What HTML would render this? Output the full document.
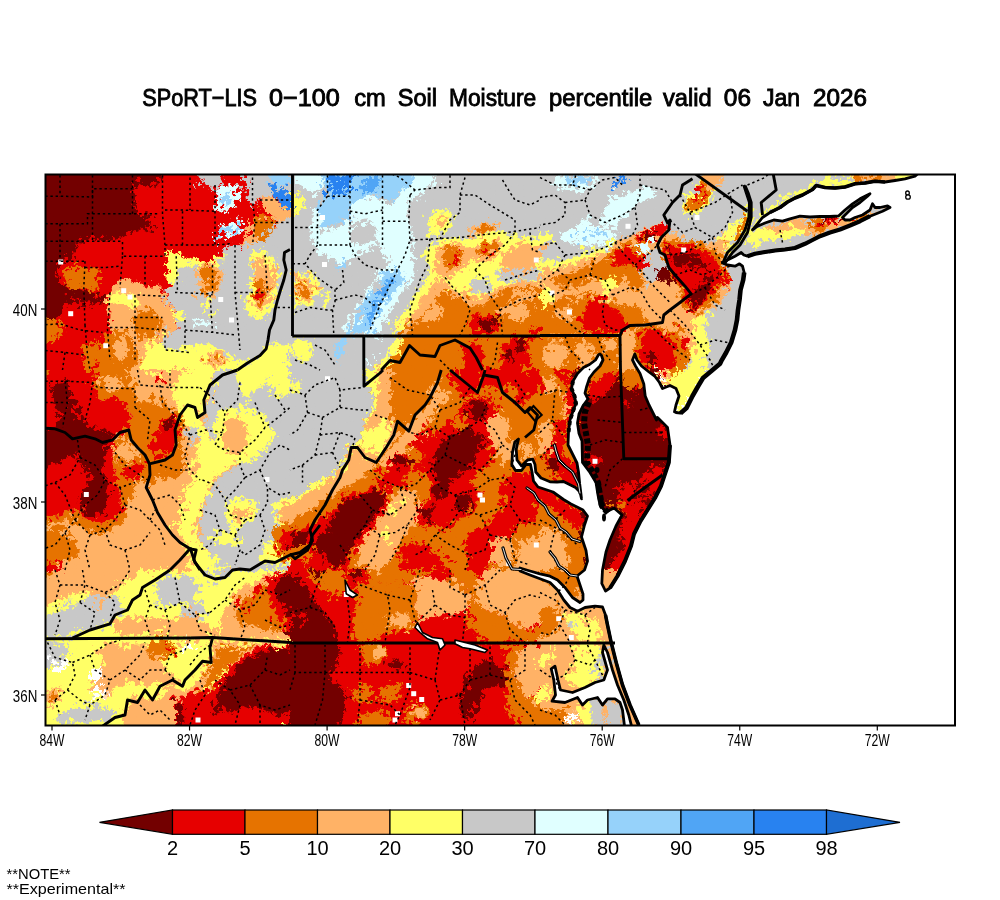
<!DOCTYPE html>
<html><head><meta charset="utf-8"><title>SPoRT-LIS Soil Moisture</title>
<style>
html,body{margin:0;padding:0;background:#fff;}
body{width:1000px;height:900px;position:relative;overflow:hidden;font-family:"Liberation Sans",sans-serif;color:#000;}
.t{position:absolute;white-space:nowrap;line-height:1;}
</style></head><body>
<svg width="1000" height="900" viewBox="0 0 1000 900" style="position:absolute;left:0;top:0">
<defs>
<clipPath id="mapclip"><rect x="45.5" y="174.5" width="909" height="551"/></clipPath>
<filter id="rough" x="0" y="0" width="1000" height="900" filterUnits="userSpaceOnUse" primitiveUnits="userSpaceOnUse" color-interpolation-filters="sRGB"><feTurbulence type="fractalNoise" baseFrequency="0.16" numOctaves="3" seed="7" result="n1"/><feDisplacementMap in="SourceGraphic" in2="n1" scale="14" xChannelSelector="R" yChannelSelector="G" result="A"/><feTurbulence type="fractalNoise" baseFrequency="0.035" numOctaves="2" seed="23" result="n2"/><feDisplacementMap in="SourceGraphic" in2="n2" scale="36" xChannelSelector="R" yChannelSelector="G" result="B0"/><feDisplacementMap in="B0" in2="n1" scale="12" xChannelSelector="G" yChannelSelector="B" result="B"/><feTurbulence type="fractalNoise" baseFrequency="0.22" numOctaves="2" seed="5" result="n3"/><feColorMatrix in="n3" type="matrix" values="0 0 0 0 0  0 0 0 0 0  0 0 0 0 0  40 0 0 0 -21.2" result="mask"/><feComposite in="B" in2="mask" operator="in" result="Bm"/><feMerge><feMergeNode in="A"/><feMergeNode in="Bm"/></feMerge></filter>
<clipPath id="t0"><rect x="40" y="170" width="250" height="200"/></clipPath>
<clipPath id="t1"><rect x="40" y="370" width="250" height="200"/></clipPath>
<clipPath id="t2"><rect x="40" y="570" width="250" height="200"/></clipPath>
<clipPath id="t3"><rect x="290" y="170" width="250" height="200"/></clipPath>
<clipPath id="t4"><rect x="290" y="370" width="250" height="200"/></clipPath>
<clipPath id="t5"><rect x="290" y="570" width="250" height="200"/></clipPath>
<clipPath id="t6"><rect x="540" y="170" width="250" height="200"/></clipPath>
<clipPath id="t7"><rect x="540" y="370" width="250" height="200"/></clipPath>
<clipPath id="t8"><rect x="540" y="570" width="250" height="200"/></clipPath>
<clipPath id="t9"><rect x="790" y="170" width="180" height="200"/></clipPath>
</defs>
<g clip-path="url(#mapclip)">
<g filter="url(#rough)">
<g clip-path="url(#t0)">
<rect x="39" y="169" width="252" height="202" fill="#e60000"/>
<polygon fill="#730000" points="40.0,170.0 140.0,170.0 141.2,183.8 136.2,193.8 133.8,207.5 140.0,213.0 153.8,213.8 155.0,220.0 146.2,227.0 136.2,232.5 122.5,237.0 107.5,240.0 90.0,240.5 80.0,244.0 70.0,252.5 60.5,264.5 58.0,276.2 63.0,287.5 82.5,290.5 97.5,292.5 108.0,296.2 107.0,303.8 95.0,305.0 82.5,300.5 71.2,298.0 65.0,306.2 62.5,315.0 53.8,320.0 48.8,326.2 40.0,332.5"/>
<polygon fill="#730000" points="140.0,170.0 162.5,170.0 162.0,183.8 152.5,188.8 141.2,183.8"/>
<polygon fill="#e67300" points="66.2,266.2 77.5,262.0 85.0,267.5 90.0,264.5 96.5,270.0 98.0,282.5 93.8,290.5 85.0,287.5 75.0,292.5 67.5,287.5 64.5,277.5"/>
<polygon fill="#c8c8c8" points="176.2,266.2 190.0,263.0 201.2,268.0 215.0,265.5 220.5,255.0 230.0,245.5 240.0,245.0 250.5,240.0 257.5,235.5 266.2,232.5 275.0,221.2 290.0,215.0 290.0,370.0 146.2,370.0 145.0,355.5 150.0,345.5 165.0,340.5 175.0,330.5 180.0,320.0 173.0,310.0 168.0,300.0 167.5,290.5 174.5,283.0"/>
<polygon fill="#ffff66" points="167.0,249.5 175.0,252.5 182.5,256.2 195.0,258.0 202.5,263.0 212.5,265.0 220.0,256.2 225.0,252.5 223.8,265.0 215.0,270.0 202.5,268.8 190.0,266.2 178.0,268.0 176.2,282.5 170.0,288.8 166.2,280.0 167.5,265.0"/>
<polygon fill="#ffb266" points="195.0,267.5 215.0,263.8 222.5,275.0 221.2,287.5 212.5,293.8 202.5,290.0 196.2,280.0"/>
<polygon fill="#e67300" points="200.0,270.0 210.0,266.2 216.2,275.0 218.8,283.8 212.5,290.0 205.0,285.0 200.0,277.5"/>
<polygon fill="#ffff66" points="247.5,252.5 265.0,249.5 276.2,265.0 278.8,280.0 273.8,300.0 266.2,315.0 253.8,321.2 245.0,310.0 249.5,290.0 252.0,270.0"/>
<polygon fill="#ffb266" points="252.5,258.8 265.0,256.2 273.0,275.0 271.2,295.0 261.2,310.0 252.5,306.2 254.5,285.0"/>
<polygon fill="#e67300" points="253.8,280.0 263.8,277.5 266.2,300.0 258.8,306.2 253.8,300.0"/>
<polygon fill="#e60000" points="255.5,290.0 261.2,288.8 262.5,298.8 257.0,301.2"/>
<polygon fill="#c8c8c8" points="193.8,170.0 221.2,170.0 220.5,182.5 215.0,193.8 207.5,185.0 200.0,180.0"/>
<polygon fill="#e0ffff" points="215.0,193.8 223.8,185.0 237.5,183.8 242.5,193.8 232.5,207.5 222.5,213.8 216.2,207.5"/>
<polygon fill="#96d2fa" points="218.8,197.5 227.5,192.5 232.5,200.0 225.0,210.0"/>
<polygon fill="#e0ffff" points="223.8,223.8 231.2,221.2 238.8,228.8 231.2,237.5 223.8,232.5"/>
<polygon fill="#96d2fa" points="227.5,226.2 233.8,226.2 235.0,232.5 228.8,234.5"/>
<polygon fill="#c8c8c8" points="240.0,170.0 290.0,170.0 290.0,197.5 260.0,197.5 252.5,207.5 247.5,200.0 250.0,185.0"/>
<polygon fill="#96d2fa" points="265.0,174.0 290.0,174.0 290.0,187.5 275.0,185.0"/>
<polygon fill="#2882f0" points="271.2,185.0 280.0,187.5 290.0,197.5 290.0,210.0 280.0,207.5 273.8,195.0"/>
<polygon fill="#ffb266" points="260.0,197.5 272.5,195.0 280.0,207.5 290.0,210.0 290.0,217.5 275.0,221.2 266.2,216.2"/>
<polygon fill="#e67300" points="252.5,217.5 265.0,215.0 272.5,223.8 270.5,237.0 260.0,240.5 252.5,232.5"/>
<polygon fill="#ffb266" points="247.5,227.5 252.5,217.5 252.5,232.5 260.0,240.5 252.5,245.0 240.0,245.0"/>
<polygon fill="#ffb266" points="111.2,289.5 120.0,278.0 135.0,280.5 147.5,287.5 165.0,287.5 167.5,300.0 172.5,310.0 178.8,320.0 175.0,330.5 165.0,340.5 150.0,345.5 145.0,355.5 140.0,370.0 97.5,370.0 104.5,345.0 107.5,330.0 110.5,315.0 108.0,300.0"/>
<polygon fill="#ffff66" points="110.5,293.0 140.0,295.0 138.0,310.0 127.5,305.5 115.0,303.0 110.5,305.5"/>
<polygon fill="#e67300" points="135.0,313.0 152.5,310.0 162.5,320.0 160.5,335.0 148.0,340.5 135.5,335.0 130.5,325.0"/>
<polygon fill="#e67300" points="107.0,330.5 125.0,330.0 135.0,345.0 140.0,360.0 130.5,370.0 97.5,370.0 100.5,350.0"/>
<polygon fill="#ffb266" points="113.0,340.5 125.0,335.5 130.0,348.0 122.5,360.5 113.0,355.5"/>
<polygon fill="#ffff66" points="147.5,345.5 165.0,342.5 170.5,350.5 190.0,345.5 210.5,345.0 225.5,350.5 240.0,360.0 290.0,355.5 290.0,370.0 140.0,370.0"/>
<polygon fill="#ffb266" points="210.0,352.5 222.5,350.5 227.5,362.5 215.0,367.5 207.5,361.2"/>
<polygon fill="#e67300" points="212.5,356.2 220.0,355.0 222.0,361.2 215.0,363.0"/>
<polygon fill="#ffff66" points="172.5,310.0 182.5,308.8 183.8,320.0 176.2,323.0"/>
<polygon fill="#ffff66" points="200.0,301.2 212.5,300.0 215.0,308.8 202.5,310.0"/>
<polygon fill="#e0ffff" points="192.5,322.5 210.0,320.0 211.2,325.0 193.8,328.8"/>
<polygon fill="#e67300" points="40.0,323.8 55.0,320.0 60.0,330.0 55.0,341.2 40.0,345.0"/>
<polygon fill="#e67300" points="85.0,345.0 97.5,342.5 100.5,357.5 90.0,370.0 82.5,370.0"/>
<polygon fill="#ffff66" points="237.5,370.0 247.5,363.0 260.0,355.5 267.5,345.0 290.0,342.5 290.0,370.0"/>
<polygon fill="#c8c8c8" points="275.0,317.5 290.0,310.0 290.0,345.0 268.8,342.5"/>
</g>
<g clip-path="url(#t1)">
<rect x="39" y="369" width="252" height="202" fill="#ffb266"/>
<polygon fill="#e67300" points="90.0,370.0 122.5,370.0 132.5,390.0 140.0,405.0 150.0,400.0 160.0,405.0 180.0,410.0 185.0,420.0 180.0,445.0 187.5,455.0 185.0,470.0 175.0,477.5 160.0,480.0 150.0,487.5 145.0,477.5 135.0,480.0 125.0,475.0 115.0,455.0 112.5,445.0 127.5,430.0 132.5,420.0 125.0,402.5 115.0,395.0 100.0,400.0 90.0,385.0"/>
<polygon fill="#e67300" points="112.5,452.5 125.0,475.0 135.0,480.0 132.5,495.0 127.5,510.0 122.5,525.0 105.0,532.5 85.0,530.0 65.0,520.0 40.0,525.0 40.0,517.5 60.0,515.0 70.0,510.0 85.0,517.5 100.0,522.5 115.0,520.0 125.0,510.0 120.0,495.0 115.0,475.0"/>
<polygon fill="#e67300" points="40.0,530.0 60.0,525.0 72.5,535.0 80.0,550.0 70.0,560.0 55.0,562.5 40.0,570.0"/>
<polygon fill="#e60000" points="40.0,560.0 55.0,562.5 60.0,570.0 40.0,570.0"/>
<polygon fill="#ffb266" points="97.5,380.0 115.0,377.5 122.5,387.5 110.0,392.5"/>
<polygon fill="#ffb266" points="140.0,385.0 157.5,385.0 160.0,397.5 145.0,400.0"/>
<polygon fill="#e60000" points="40.0,370.0 95.0,370.0 90.0,385.0 100.0,400.0 115.0,395.0 125.0,402.5 132.5,420.0 127.5,430.0 115.0,437.5 112.5,452.5 115.0,475.0 120.0,495.0 125.0,510.0 115.0,520.0 100.0,522.5 85.0,517.5 70.0,510.0 60.0,515.0 40.0,520.0"/>
<polygon fill="#730000" points="50.0,385.0 67.5,382.5 72.5,395.0 82.5,410.0 90.0,425.0 110.0,430.0 115.0,437.5 105.0,445.0 102.5,465.0 105.0,480.0 107.5,500.0 100.0,512.5 90.0,517.5 80.0,510.0 77.5,497.5 87.5,487.5 92.5,477.5 85.0,462.5 70.0,455.0 55.0,465.0 40.0,467.5 40.0,430.0 55.0,427.5 62.5,415.0 52.5,402.5"/>
<polygon fill="#e67300" points="40.0,370.0 47.5,370.0 47.5,380.0 40.0,382.5"/>
<polygon fill="#e60000" points="152.5,432.5 160.0,420.0 175.0,415.0 180.0,425.0 175.0,445.0 165.0,457.5 152.5,460.0 150.0,445.0"/>
<polygon fill="#730000" points="160.0,425.0 172.5,417.5 176.2,423.8 165.0,432.5"/>
<polygon fill="#e60000" points="125.0,465.0 142.5,462.5 145.0,472.5 132.5,477.5 125.0,472.5"/>
<polygon fill="#e60000" points="155.0,375.0 162.5,375.0 162.5,382.5 155.0,383.8"/>
<polygon fill="#ffb266" points="115.0,445.0 130.0,440.0 140.0,452.5 135.0,462.5 120.0,460.0"/>
<polygon fill="#ffff66" points="170.0,395.0 180.0,375.0 195.0,370.0 215.0,370.0 210.0,385.0 205.0,400.0 200.0,415.0 205.0,430.0 215.0,445.0 230.0,452.5 240.0,460.0 225.0,470.0 210.0,480.0 205.0,495.0 200.0,510.0 195.0,530.0 200.0,545.0 215.0,555.0 230.0,565.0 225.0,570.0 190.0,570.0 185.0,550.0 180.0,530.0 180.0,510.0 185.0,495.0 195.0,480.0 200.0,465.0 195.0,445.0 187.5,432.5 185.0,420.0 180.0,407.5"/>
<polygon fill="#c8c8c8" points="215.0,370.0 290.0,370.0 290.0,570.0 230.0,570.0 215.0,555.0 202.5,545.0 200.0,520.0 205.0,500.0 215.0,480.0 230.0,470.0 245.0,460.0 230.0,452.5 215.0,445.0 207.5,430.0 205.0,410.0 210.0,390.0"/>
<polygon fill="#c8c8c8" points="185.0,427.5 195.0,425.0 200.0,440.0 190.0,445.0"/>
<polygon fill="#ffff66" points="215.0,410.0 245.0,405.0 265.0,415.0 275.0,435.0 265.0,452.5 250.0,462.5 230.0,462.5 215.0,445.0"/>
<polygon fill="#ffb266" points="225.0,420.0 240.0,415.0 247.5,435.0 245.0,452.5 230.0,455.0 222.5,440.0"/>
<polygon fill="#ffff66" points="235.0,370.0 290.0,370.0 290.0,385.0 275.0,382.5 260.0,387.5 245.0,397.5 237.5,385.0"/>
<polygon fill="#ffff66" points="275.0,385.0 290.0,382.5 290.0,395.0 277.5,397.5"/>
<polygon fill="#ffff66" points="225.0,500.0 250.0,495.0 257.5,510.0 250.0,525.0 232.5,530.0 225.0,517.5"/>
<polygon fill="#ffb266" points="232.5,510.0 247.5,505.0 250.0,517.5 237.5,522.5"/>
<polygon fill="#ffff66" points="270.0,505.0 290.0,495.0 290.0,535.0 277.5,532.5"/>
<polygon fill="#ffb266" points="277.5,510.0 290.0,505.0 290.0,527.5 280.0,525.0"/>
<polygon fill="#ffff66" points="265.0,545.0 290.0,540.0 290.0,560.0 275.0,565.0 260.0,560.0"/>
<polygon fill="#ffff66" points="215.0,530.0 235.0,530.0 237.5,545.0 220.0,545.0"/>
<polygon fill="#ffff66" points="180.0,495.0 195.0,490.0 200.0,510.0 190.0,530.0 180.0,525.0"/>
<polygon fill="#e67300" points="272.5,530.0 290.0,520.0 290.0,560.0 277.5,555.0"/>
<polygon fill="#e60000" points="280.0,535.0 290.0,530.0 290.0,555.0 282.5,550.0"/>
</g>
<g clip-path="url(#t2)">
<rect x="39" y="569" width="252" height="202" fill="#ffff66"/>
<polygon fill="#ffb266" points="40.0,570.0 140.0,570.0 130.0,580.0 115.0,592.5 100.0,597.5 85.0,592.5 70.0,597.5 55.0,602.5 40.0,607.5"/>
<polygon fill="#e67300" points="40.0,570.0 52.5,570.0 50.0,577.5 40.0,577.5"/>
<polygon fill="#c8c8c8" points="40.0,617.5 60.0,612.5 80.0,602.5 90.0,595.0 110.0,595.0 125.0,602.5 115.0,617.5 100.0,625.0 85.0,630.0 72.5,637.5 40.0,637.5"/>
<polygon fill="#c8c8c8" points="155.0,582.5 175.0,575.0 195.0,577.5 200.0,590.0 190.0,602.5 175.0,607.5 160.0,600.0"/>
<polygon fill="#c8c8c8" points="202.5,570.0 235.0,570.0 225.0,577.5 215.0,580.0 205.0,575.0"/>
<polygon fill="#c8c8c8" points="40.0,642.5 67.5,642.5 72.5,652.5 60.0,657.5 52.5,670.0 40.0,670.0"/>
<polygon fill="#c8c8c8" points="55.0,715.0 80.0,710.0 102.5,705.0 115.0,712.5 110.0,720.0 85.0,722.5 60.0,725.0"/>
<polygon fill="#c8c8c8" points="180.0,607.5 200.0,602.5 210.0,612.5 195.0,622.5 182.5,620.0"/>
<polygon fill="#ffb266" points="115.0,620.0 140.0,615.0 165.0,620.0 180.0,615.0 200.0,620.0 215.0,627.5 220.0,637.5 190.0,637.5 160.0,635.0 135.0,637.5 115.0,632.5"/>
<polygon fill="#ffb266" points="102.5,642.5 145.0,642.5 150.0,655.0 165.0,665.0 160.0,680.0 145.0,685.0 130.0,680.0 115.0,687.5 105.0,700.0 90.0,690.0 95.0,675.0 105.0,665.0 100.0,652.5"/>
<polygon fill="#e67300" points="147.5,645.0 160.0,640.0 175.0,642.5 177.5,652.5 165.0,657.5 155.0,662.5 147.5,655.0"/>
<polygon fill="#e60000" points="167.5,645.0 175.0,645.0 175.0,650.0 167.5,650.0"/>
<polygon fill="#ffb266" points="47.5,690.0 60.0,687.5 62.5,700.0 52.5,705.0 40.0,702.5"/>
<polygon fill="#e67300" points="50.0,692.5 57.5,691.2 58.8,698.8 51.2,700.0"/>
<polygon fill="#ffb266" points="125.0,710.0 140.0,695.0 155.0,700.0 175.0,687.5 190.0,690.0 185.0,705.0 175.0,720.0 175.0,730.0 122.5,730.0"/>
<polygon fill="#ffb266" points="150.0,675.0 175.0,672.5 182.5,682.5 170.0,687.5 157.5,685.0"/>
<polygon fill="#ffb266" points="220.0,620.0 230.0,602.5 240.0,590.0 252.5,580.0 265.0,575.0 290.0,572.5 290.0,640.0 220.0,638.8"/>
<polygon fill="#e67300" points="237.5,605.0 252.5,592.5 265.0,585.0 290.0,585.0 290.0,632.5 265.0,630.0 245.0,625.0 235.0,617.5"/>
<polygon fill="#e60000" points="240.0,607.5 247.5,602.5 250.0,612.5 242.5,616.2"/>
<polygon fill="#e60000" points="250.0,587.5 260.0,585.0 260.0,592.5 252.5,595.0"/>
<polygon fill="#e60000" points="270.0,590.0 290.0,580.0 290.0,620.0 277.5,615.0 270.0,602.5"/>
<polygon fill="#730000" points="277.5,587.5 290.0,585.0 290.0,602.5 280.0,600.0"/>
<polygon fill="#ffb266" points="212.5,641.2 290.0,643.8 290.0,650.0 265.0,652.5 240.0,660.0 225.0,670.0 215.0,680.0 200.0,690.0 187.5,697.5 180.0,695.0 200.0,680.0 210.0,665.0 212.5,652.5"/>
<polygon fill="#e67300" points="220.0,645.0 255.0,645.0 240.0,657.5 225.0,670.0 215.0,680.0 202.5,690.0 192.5,695.0 210.0,675.0 215.0,660.0"/>
<polygon fill="#e60000" points="260.0,645.0 290.0,645.0 290.0,730.0 175.0,730.0 175.0,705.0 185.0,695.0 195.0,692.5 210.0,687.5 220.0,677.5 230.0,667.5 240.0,660.0 250.0,652.5"/>
<polygon fill="#730000" points="265.0,647.5 290.0,647.5 290.0,710.0 280.0,715.0 265.0,710.0 250.0,705.0 235.0,710.0 220.0,715.0 210.0,710.0 215.0,695.0 225.0,680.0 235.0,670.0 245.0,660.0 255.0,655.0"/>
<polygon fill="#730000" points="176.2,705.0 182.5,702.5 183.8,730.0 176.2,730.0"/>
<polygon fill="#ffffff" points="51.2,660.0 67.5,661.2 66.2,670.0 52.5,670.0"/>
<polygon fill="#ffffff" points="90.0,668.8 102.5,668.8 102.5,680.0 90.0,680.0"/>
<polygon fill="#ffffff" points="92.5,690.0 105.5,690.0 105.5,700.0 92.5,700.0"/>
<polygon fill="#ffffff" points="185.0,637.5 190.0,637.5 190.0,647.5 185.0,647.5"/>
<polygon fill="#e60000" points="265.0,577.5 290.0,570.0 290.0,635.0 280.0,625.0 270.0,602.5"/>
<polygon fill="#730000" points="273.8,580.0 290.0,575.0 290.0,620.0 283.8,610.0 277.5,597.5"/>
</g>
<g clip-path="url(#t3)">
<rect x="289" y="169" width="252" height="202" fill="#c8c8c8"/>
<polygon fill="#e0ffff" points="295.0,170.0 322.5,170.0 325.0,185.0 315.0,192.5 302.5,187.5 295.0,185.0"/>
<polygon fill="#e0ffff" points="415.0,170.0 438.0,170.0 433.0,185.0 416.2,196.2 407.5,210.0 410.0,235.0 415.0,252.5 414.5,270.0 407.5,283.8 395.0,305.0 380.0,330.0 370.0,335.5 340.0,335.5 352.5,312.5 365.0,292.5 375.0,277.5 385.0,266.2 382.5,252.5 375.0,245.0 365.0,252.5 347.5,263.0 337.5,265.5 335.0,255.0 320.0,252.5 315.0,242.5 322.5,232.5 340.0,227.5 350.0,215.0 352.5,200.0 372.5,197.5 390.0,202.5 400.0,195.0"/>
<polygon fill="#c8c8c8" points="350.0,222.5 372.5,220.0 377.5,235.5 365.0,245.0 350.0,242.5"/>
<polygon fill="#96d2fa" points="322.5,170.0 415.0,170.0 410.5,185.0 390.5,200.5 372.5,195.0 355.5,200.0 350.0,212.5 335.0,225.5 322.5,228.0 315.0,220.0 317.5,207.5 327.5,197.5 325.0,185.0"/>
<polygon fill="#50a5f5" points="357.5,177.0 378.0,177.0 375.0,192.5 362.5,195.0"/>
<polygon fill="#2882f0" points="327.5,174.5 350.0,174.5 352.5,190.0 340.0,195.0 330.0,187.5"/>
<polygon fill="#96d2fa" points="397.5,270.0 405.5,275.5 390.0,300.0 375.0,320.0 365.0,335.5 343.0,335.5 355.0,315.0 365.0,297.5 377.5,282.5 387.5,270.0"/>
<polygon fill="#50a5f5" points="390.0,278.0 395.0,280.5 375.0,315.5 368.0,323.0 365.0,318.0 377.5,295.0"/>
<polygon fill="#c8c8c8" points="372.5,283.8 382.5,280.0 383.0,290.0 375.0,295.0"/>
<polygon fill="#e0ffff" points="312.5,212.5 322.5,217.5 320.0,242.5 315.0,245.0 310.0,232.5"/>
<polygon fill="#96d2fa" points="335.0,263.8 345.0,262.5 346.2,268.8 337.5,270.0"/>
<polygon fill="#ffff66" points="290.0,195.0 305.0,195.0 305.0,207.5 292.5,215.0 290.0,215.0"/>
<polygon fill="#ffff66" points="295.0,275.0 310.0,272.5 318.0,280.0 320.0,295.0 313.0,305.5 300.0,305.5 295.0,295.0"/>
<polygon fill="#ffb266" points="297.5,277.5 308.8,276.2 313.8,287.5 312.5,300.0 301.2,302.5 297.0,292.5"/>
<polygon fill="#e67300" points="300.0,281.2 307.5,280.5 310.0,295.0 300.5,300.0"/>
<polygon fill="#ffff66" points="322.5,292.5 330.0,292.5 327.5,307.5 322.5,307.5"/>
<polygon fill="#ffff66" points="425.0,252.5 432.5,240.5 450.0,237.5 465.0,240.0 480.0,235.0 497.5,232.5 515.0,237.5 540.0,237.5 540.0,282.5 520.0,280.0 505.0,283.8 490.0,292.5 480.0,301.2 465.0,296.2 455.0,288.8 445.0,278.8 435.0,283.8 425.0,296.2 415.0,311.2 410.0,320.0 396.2,335.5 390.0,335.5 405.0,310.0 420.0,287.5 430.0,270.0"/>
<polygon fill="#ffb266" points="432.5,250.0 445.0,242.5 465.0,245.0 480.0,247.5 490.0,240.0 502.5,242.5 497.5,255.0 485.0,262.5 475.0,260.0 465.0,270.0 452.5,275.0 440.0,277.5 435.0,270.0 437.5,257.5"/>
<polygon fill="#ffb266" points="502.5,252.5 520.0,245.0 540.0,245.0 540.0,265.0 525.0,270.0 510.0,270.0 500.0,265.0"/>
<polygon fill="#e67300" points="440.0,247.5 452.5,245.0 462.5,252.5 460.0,265.0 450.0,270.0 442.5,262.5"/>
<polygon fill="#e67300" points="475.0,245.0 490.0,240.0 497.5,245.0 487.5,255.0 477.5,255.0"/>
<polygon fill="#e60000" points="452.0,251.2 456.8,250.0 458.5,263.8 453.8,265.0"/>
<polygon fill="#e60000" points="480.0,250.0 487.5,243.8 491.2,246.2 483.8,253.8"/>
<polygon fill="#c8c8c8" points="470.0,280.0 487.5,277.5 490.0,290.0 477.5,295.0 470.0,290.0"/>
<polygon fill="#c8c8c8" points="495.0,270.0 515.0,267.5 540.0,268.8 540.0,280.0 520.0,279.5 500.0,281.2"/>
<polygon fill="#ffff66" points="430.0,215.0 440.0,207.5 452.5,212.5 455.5,220.0 445.0,230.0 438.0,237.5 427.5,235.0"/>
<polygon fill="#ffb266" points="435.0,220.0 445.0,215.0 450.0,220.0 440.0,230.0"/>
<polygon fill="#ffb266" points="465.0,232.5 475.0,225.0 490.0,221.2 502.5,223.8 495.0,231.2 480.0,235.0 470.0,238.8"/>
<polygon fill="#e67300" points="475.0,228.8 490.0,223.8 495.0,227.5 482.5,232.5"/>
<polygon fill="#ffb266" points="400.0,335.5 415.0,310.0 425.0,295.0 435.0,283.0 445.0,278.0 455.0,288.0 465.0,295.5 480.0,300.5 490.0,291.5 505.0,283.0 520.0,280.0 540.0,282.5 540.0,370.0 375.0,370.0 390.0,350.0"/>
<polygon fill="#e67300" points="407.5,335.5 420.0,317.5 430.0,305.0 440.0,295.0 450.0,290.0 460.0,300.0 475.0,306.2 490.0,300.0 502.5,290.0 520.0,286.2 540.0,287.5 540.0,370.0 382.5,370.0 395.0,350.0"/>
<polygon fill="#ffb266" points="425.0,310.0 440.0,305.0 445.0,315.0 432.5,323.0 422.5,320.0"/>
<polygon fill="#ffb266" points="495.0,310.0 515.0,305.0 530.0,310.0 525.0,320.0 505.0,320.0"/>
<polygon fill="#ffb266" points="510.0,290.0 530.0,290.0 535.0,300.0 515.0,302.5"/>
<polygon fill="#e60000" points="470.0,320.0 480.0,315.0 495.0,317.5 498.0,330.0 490.0,337.0 472.5,337.0 468.8,327.5"/>
<polygon fill="#730000" points="480.0,321.2 492.5,320.0 495.5,330.0 485.0,334.0 480.0,328.8"/>
<polygon fill="#e60000" points="462.5,350.5 475.0,342.5 485.0,350.5 482.5,370.0 465.0,370.0"/>
<polygon fill="#e60000" points="502.5,345.0 515.0,337.5 528.0,342.5 530.5,360.0 520.0,370.0 502.5,370.0"/>
<polygon fill="#730000" points="505.0,352.5 512.5,350.0 515.0,360.0 507.5,362.5"/>
<polygon fill="#730000" points="515.0,342.5 525.0,342.5 525.0,350.0 517.5,350.5"/>
<polygon fill="#e60000" points="527.5,330.0 540.0,327.5 540.0,340.0 530.0,338.0"/>
<polygon fill="#ffff66" points="292.5,342.5 310.0,340.0 313.0,352.5 307.5,360.5 292.5,358.0"/>
<polygon fill="#96d2fa" points="337.5,337.0 348.0,337.0 340.0,360.0 333.8,360.0"/>
<polygon fill="#e0ffff" points="372.0,355.0 378.0,355.0 378.0,363.0 372.0,363.0"/>
<polygon fill="#ffff66" points="390.0,345.0 400.0,337.0 405.0,337.0 395.0,352.5 385.0,370.0 377.5,370.0"/>
</g>
<g clip-path="url(#t4)">
<rect x="289" y="369" width="252" height="202" fill="#e67300"/>
<polygon fill="#ffb266" points="375.0,370.0 395.0,370.0 390.0,392.5 390.0,420.0 400.0,432.5 390.0,445.0 382.5,460.0 365.0,475.0 345.0,487.5 325.0,500.0 305.0,512.5 290.0,525.0 290.0,505.0 305.0,495.0 317.5,487.5 330.0,477.5 342.5,467.5 352.5,452.5 362.5,442.5 367.5,425.0 375.0,410.0 380.0,390.0"/>
<polygon fill="#ffb266" points="400.0,435.0 420.0,415.0 435.0,397.5 445.0,390.0 450.0,397.5 440.0,410.0 425.0,427.5 410.0,445.0 395.0,462.5 385.0,470.0 380.0,465.0 390.0,450.0"/>
<polygon fill="#ffff66" points="362.5,370.0 377.5,370.0 380.0,390.0 375.0,410.0 367.5,425.0 362.5,442.5 352.5,452.5 342.5,467.5 330.0,477.5 317.5,487.5 305.0,495.0 290.0,505.0 290.0,500.0 302.5,492.5 315.0,482.5 327.5,475.0 340.0,465.0 350.0,450.0 360.0,440.0 365.0,422.5 372.5,410.0 375.0,395.0 365.0,385.0"/>
<polygon fill="#ffff66" points="362.5,432.5 382.5,422.5 390.0,432.5 385.0,450.0 375.0,457.5 365.0,452.5"/>
<polygon fill="#c8c8c8" points="290.0,370.0 362.5,370.0 365.0,385.0 375.0,395.0 372.5,410.0 365.0,422.5 360.0,440.0 350.0,450.0 340.0,465.0 327.5,475.0 315.0,482.5 302.5,492.5 290.0,500.0"/>
<polygon fill="#ffff66" points="290.0,385.0 300.0,380.0 302.5,392.5 292.5,395.0"/>
<polygon fill="#ffb266" points="350.0,455.0 360.0,452.5 360.0,470.0 352.5,472.5"/>
<polygon fill="#e60000" points="397.5,452.5 407.5,455.0 410.0,470.0 400.0,485.0 390.0,495.0 385.0,510.0 375.0,525.0 365.0,540.0 355.0,555.0 345.0,570.0 305.0,570.0 310.0,555.0 305.0,545.0 290.0,542.5 290.0,530.0 305.0,527.5 320.0,520.0 335.0,510.0 345.0,497.5 362.5,490.0 375.0,487.5 385.0,477.5 390.0,465.0"/>
<polygon fill="#730000" points="340.0,505.0 355.0,497.5 372.5,492.5 385.0,487.5 387.5,497.5 380.0,510.0 370.0,525.0 357.5,540.0 350.0,555.0 340.0,567.5 325.0,567.5 327.5,550.0 315.0,552.5 310.0,545.0 317.5,535.0 330.0,525.0"/>
<polygon fill="#730000" points="395.0,456.2 405.0,455.0 407.5,465.0 400.0,470.0 395.0,465.0"/>
<polygon fill="#730000" points="290.0,532.5 302.5,530.0 310.0,537.5 305.0,545.0 290.0,545.0"/>
<polygon fill="#ffb266" points="372.5,530.0 385.0,510.0 395.0,495.0 407.5,487.5 415.0,495.0 417.5,510.0 412.5,525.0 402.5,537.5 395.0,555.0 385.0,567.5 370.0,570.0 357.5,565.0 360.0,550.0"/>
<polygon fill="#ffff66" points="380.0,530.0 390.0,527.5 390.0,540.0 382.5,542.5"/>
<polygon fill="#ffff66" points="388.8,508.8 397.5,506.2 397.5,513.8 390.0,515.0"/>
<polygon fill="#e60000" points="410.0,440.0 425.0,430.0 440.0,427.5 455.0,415.0 465.0,402.5 475.0,395.0 490.0,400.0 497.5,415.0 490.0,432.5 497.5,445.0 490.0,460.0 480.0,470.0 470.0,477.5 475.0,490.0 480.0,505.0 470.0,515.0 455.0,520.0 445.0,530.0 435.0,525.0 425.0,530.0 415.0,520.0 417.5,505.0 430.0,495.0 430.0,480.0 420.0,475.0 415.0,465.0 425.0,455.0 415.0,450.0"/>
<polygon fill="#e67300" points="450.0,420.0 465.0,412.5 470.0,425.0 460.0,432.5"/>
<polygon fill="#730000" points="435.0,452.5 445.0,437.5 460.0,432.5 470.0,425.0 475.0,435.0 487.5,437.5 485.0,450.0 475.0,455.0 470.0,467.5 460.0,475.0 450.0,482.5 445.0,495.0 435.0,500.0 432.5,487.5 440.0,477.5 432.5,470.0"/>
<polygon fill="#730000" points="470.0,402.5 485.0,400.0 487.5,412.5 477.5,420.0 472.5,415.0"/>
<polygon fill="#730000" points="420.0,505.0 425.0,510.0 432.5,505.0 435.0,510.0 430.0,517.5 435.0,525.0 427.5,525.0 422.5,517.5 417.5,512.5"/>
<polygon fill="#730000" points="455.0,500.0 470.0,495.0 475.0,507.5 465.0,512.5 455.0,510.0"/>
<polygon fill="#e60000" points="450.0,370.0 540.0,370.0 540.0,385.0 530.0,397.5 520.0,407.5 510.0,400.0 500.0,390.0 485.0,385.0 475.0,392.5 465.0,395.0 455.0,385.0"/>
<polygon fill="#e67300" points="500.0,385.0 515.0,385.0 520.0,397.5 507.5,400.0"/>
<polygon fill="#e60000" points="505.0,477.5 520.0,470.0 540.0,477.5 540.0,510.0 530.0,520.0 515.0,530.0 505.0,545.0 495.0,560.0 485.0,570.0 465.0,570.0 470.0,555.0 465.0,540.0 475.0,530.0 490.0,520.0 500.0,505.0 497.5,490.0"/>
<polygon fill="#ffb266" points="487.5,420.0 502.5,415.0 510.0,425.0 507.5,440.0 495.0,445.0 487.5,435.0"/>
<polygon fill="#ffb266" points="497.5,442.5 515.0,440.0 517.5,457.5 505.0,462.5 495.0,455.0"/>
<polygon fill="#ffb266" points="490.0,540.0 507.5,535.0 515.0,550.0 505.0,565.0 490.0,562.5"/>
<polygon fill="#ffb266" points="520.0,445.0 530.0,442.5 535.0,455.0 525.0,460.0"/>
<polygon fill="#ffb266" points="520.0,540.0 540.0,535.0 540.0,570.0 515.0,570.0"/>
<polygon fill="#e60000" points="400.0,550.0 415.0,542.5 430.0,550.0 440.0,560.0 450.0,570.0 397.5,570.0"/>
<polygon fill="#e60000" points="290.0,555.0 305.0,560.0 305.0,570.0 290.0,570.0"/>
<polygon fill="#ffb266" points="430.0,385.0 440.0,380.0 442.5,392.5 432.5,397.5"/>
</g>
<g clip-path="url(#t5)">
<rect x="289" y="569" width="252" height="202" fill="#e60000"/>
<polygon fill="#e67300" points="365.0,570.0 440.0,570.0 425.0,575.0 407.5,580.0 390.0,585.0 372.5,580.0"/>
<polygon fill="#e67300" points="355.0,585.0 372.5,580.0 390.0,585.0 405.0,580.0 420.0,590.0 415.0,605.0 420.0,620.0 410.0,630.0 390.0,632.5 372.5,640.0 355.0,640.0 352.5,620.0 355.0,600.0"/>
<polygon fill="#e67300" points="362.5,645.0 387.5,645.0 390.0,655.0 377.5,665.0 362.5,662.5"/>
<polygon fill="#ffb266" points="372.5,647.5 385.0,647.5 385.0,657.5 375.0,657.5"/>
<polygon fill="#ffb266" points="385.0,615.0 407.5,612.5 412.5,625.0 390.0,630.0"/>
<polygon fill="#ffb266" points="407.5,580.0 425.0,575.0 440.0,580.0 455.0,575.0 465.0,585.0 470.0,600.0 465.0,612.5 450.0,617.5 432.5,615.0 420.0,620.0 415.0,605.0 420.0,590.0"/>
<polygon fill="#e67300" points="440.0,570.0 475.0,570.0 475.0,580.0 472.5,595.0 480.0,610.0 495.0,612.5 510.0,620.0 525.0,627.5 540.0,625.0 540.0,642.5 490.0,642.5 480.0,632.5 465.0,627.5 465.0,612.5 470.0,600.0 465.0,585.0 455.0,575.0"/>
<polygon fill="#ffb266" points="475.0,580.0 490.0,570.0 540.0,570.0 540.0,620.0 525.0,627.5 510.0,620.0 495.0,612.5 480.0,610.0 472.5,595.0"/>
<polygon fill="#e67300" points="305.0,570.0 345.0,570.0 347.5,585.0 340.0,595.0 327.5,590.0 317.5,585.0 307.5,577.5"/>
<polygon fill="#730000" points="290.0,577.5 305.0,585.0 315.0,600.0 325.0,615.0 335.0,627.5 340.0,645.0 337.5,665.0 332.5,680.0 340.0,687.5 347.5,700.0 342.5,715.0 340.0,730.0 290.0,730.0"/>
<polygon fill="#730000" points="310.0,570.0 325.0,570.0 320.0,577.5 312.5,575.0"/>
<polygon fill="#730000" points="352.5,570.0 362.5,570.0 360.0,580.0 352.5,577.5"/>
<polygon fill="#e60000" points="297.5,615.0 307.5,612.5 310.0,622.5 300.0,625.0"/>
<polygon fill="#730000" points="465.0,675.0 475.0,665.0 490.0,660.0 500.0,670.0 495.0,682.5 485.0,690.0 480.0,705.0 475.0,720.0 465.0,725.0 460.0,710.0 462.5,690.0"/>
<polygon fill="#730000" points="485.0,670.0 505.0,667.5 510.0,677.5 500.0,687.5 490.0,685.0"/>
<polygon fill="#730000" points="390.0,662.5 400.0,660.0 402.5,667.5 392.5,670.0"/>
<polygon fill="#e67300" points="350.0,687.5 365.0,682.5 372.5,692.5 365.0,702.5 352.5,700.0"/>
<polygon fill="#e67300" points="377.5,690.0 400.0,682.5 402.5,695.0 390.0,705.0 380.0,702.5"/>
<polygon fill="#e67300" points="360.0,715.0 380.0,710.0 390.0,720.0 385.0,730.0 360.0,730.0"/>
<polygon fill="#e67300" points="407.5,710.0 425.0,702.5 430.0,715.0 420.0,725.0 407.5,722.5"/>
<polygon fill="#ffb266" points="412.5,710.0 425.0,706.2 426.2,717.5 415.0,720.0"/>
<polygon fill="#e67300" points="510.0,645.0 525.0,645.0 517.5,655.0 515.0,670.0 520.0,685.0 530.0,700.0 540.0,695.0 540.0,730.0 515.0,730.0 510.0,710.0 505.0,690.0 507.5,670.0"/>
<polygon fill="#ffb266" points="525.0,645.0 540.0,645.0 540.0,690.0 530.0,700.0 520.0,685.0 515.0,670.0 517.5,655.0"/>
<polygon fill="#ffff66" points="535.0,695.0 540.0,692.5 540.0,702.5 536.2,702.5"/>
</g>
<g clip-path="url(#t6)">
<rect x="539" y="169" width="252" height="202" fill="#c8c8c8"/>
<polygon fill="#e0ffff" points="555.0,177.5 597.5,175.0 600.0,185.0 585.0,192.5 565.0,190.0 552.5,185.0"/>
<polygon fill="#96d2fa" points="565.0,177.5 590.0,176.2 590.0,185.0 570.0,186.2"/>
<polygon fill="#2882f0" points="607.5,187.5 625.0,176.2 627.0,179.0 610.5,190.5"/>
<polygon fill="#e0ffff" points="602.5,210.0 622.5,195.0 650.0,185.0 652.5,195.0 635.0,207.5 622.5,220.0 610.0,227.5 600.0,225.0"/>
<polygon fill="#e0ffff" points="562.5,232.5 582.5,225.0 605.0,227.5 617.5,235.0 605.0,242.5 587.5,247.5 572.5,245.0 560.0,240.0"/>
<polygon fill="#96d2fa" points="577.5,237.5 597.5,230.0 600.0,233.0 582.5,242.5"/>
<polygon fill="#e0ffff" points="580.0,220.0 590.0,217.5 592.5,225.0 582.5,227.5"/>
<polygon fill="#ffff66" points="540.0,232.5 547.5,230.0 552.5,240.0 545.0,245.0 540.0,245.0"/>
<polygon fill="#ffb266" points="540.0,265.0 555.0,270.0 572.5,263.8 590.0,258.8 605.0,251.2 615.0,241.2 627.5,235.5 640.0,230.0 652.5,226.2 665.0,221.2 668.8,230.0 680.0,232.5 680.0,245.0 695.0,245.0 710.0,242.5 720.0,235.0 732.5,230.0 740.0,222.5 747.5,215.0 750.0,232.5 740.0,245.0 725.0,257.5 725.0,265.0 735.0,275.0 732.5,287.5 720.0,300.0 710.0,310.0 705.0,325.0 700.0,345.0 690.0,360.0 680.0,370.0 540.0,370.0"/>
<polygon fill="#ffff66" points="540.0,257.5 555.0,262.5 572.5,257.5 590.0,252.5 605.0,245.0 615.0,235.5 615.0,241.2 605.0,251.2 590.0,258.8 572.5,263.8 555.0,270.0 540.0,265.0"/>
<polygon fill="#c8c8c8" points="645.0,252.5 665.0,250.0 670.0,265.0 665.0,277.5 650.0,283.0 640.0,270.0"/>
<polygon fill="#c8c8c8" points="712.5,312.5 730.0,305.0 737.5,310.0 732.5,325.0 727.5,342.5 720.0,360.0 710.0,362.5 707.5,345.0 705.0,330.0"/>
<polygon fill="#c8c8c8" points="726.2,270.0 740.0,268.8 741.2,287.5 732.5,290.0 727.5,280.0"/>
<polygon fill="#ffff66" points="690.0,320.0 705.0,310.0 712.5,312.5 705.0,330.0 707.5,345.0 710.0,362.5 700.0,370.0 690.0,370.0 695.0,345.0"/>
<polygon fill="#ffff66" points="725.0,232.5 740.0,220.0 747.5,205.0 752.5,210.0 750.0,232.5 740.0,245.0 730.0,255.0 725.0,252.5 730.0,242.5"/>
<polygon fill="#ffff66" points="540.0,290.0 550.0,287.5 555.0,300.0 547.5,310.0 540.0,310.0"/>
<polygon fill="#e67300" points="552.5,277.5 572.5,270.0 590.0,265.0 605.5,257.5 615.0,247.5 627.5,241.2 640.0,236.2 650.0,242.5 642.5,252.5 637.5,270.0 647.5,282.5 640.0,290.0 625.0,282.5 615.0,287.5 605.0,280.0 590.0,282.5 575.0,287.5 560.0,287.5"/>
<polygon fill="#ffff66" points="597.5,280.0 615.0,277.5 620.0,287.5 605.0,290.0"/>
<polygon fill="#e67300" points="540.0,310.0 555.0,300.0 575.0,295.0 590.0,290.0 605.0,295.0 622.5,305.0 640.0,310.0 650.0,320.0 640.0,327.5 622.5,330.0 620.0,335.5 540.0,335.5"/>
<polygon fill="#ffb266" points="555.0,310.0 570.0,305.0 575.0,317.5 560.0,322.5"/>
<polygon fill="#e60000" points="582.5,310.0 590.0,297.5 605.0,295.0 610.0,305.0 622.5,315.0 625.0,330.0 615.0,342.5 600.0,345.0 590.0,332.5 582.5,322.5"/>
<polygon fill="#e60000" points="612.5,255.0 622.5,247.5 632.5,245.0 635.0,255.0 645.0,265.0 640.0,270.0 630.0,265.0 622.5,267.5 612.5,265.0"/>
<polygon fill="#e60000" points="632.5,235.0 645.0,231.2 657.5,225.0 666.2,222.0 668.0,232.5 660.0,240.0 650.0,242.5 640.0,241.2"/>
<polygon fill="#730000" points="640.0,235.5 652.5,232.5 657.5,236.2 647.5,241.2"/>
<polygon fill="#e0ffff" points="636.2,245.0 647.5,242.5 650.0,250.0 640.0,255.0"/>
<polygon fill="#730000" points="655.0,268.8 665.0,266.2 675.0,275.0 672.5,283.8 662.5,282.5 655.0,277.5"/>
<polygon fill="#e67300" points="660.0,242.5 680.0,240.0 700.0,242.5 720.0,252.5 725.0,270.0 722.5,287.5 715.0,300.0 702.5,310.0 690.0,315.0 682.5,305.0 677.5,287.5 670.0,275.0 665.0,260.0"/>
<polygon fill="#e60000" points="665.0,247.5 680.0,245.0 700.0,247.5 715.0,257.5 720.0,270.0 720.0,285.0 712.5,295.0 700.0,305.0 690.0,310.0 685.0,300.0 680.0,285.0 672.5,275.0 667.5,260.0"/>
<polygon fill="#730000" points="670.0,253.8 685.0,251.2 700.0,256.2 705.0,263.8 697.5,270.0 685.0,266.2 675.0,265.0"/>
<polygon fill="#730000" points="702.5,275.0 712.5,280.0 710.0,290.0 700.0,300.0 692.5,307.5 687.5,302.5 692.5,292.5 700.0,285.0"/>
<polygon fill="#ffb266" points="680.0,306.2 695.0,311.2 690.0,325.0 680.0,330.0 670.0,325.0 670.0,315.0"/>
<polygon fill="#ffff66" points="682.5,202.5 695.0,185.0 705.0,175.0 715.0,177.5 715.0,192.5 705.0,207.5 695.0,217.5 685.0,215.0"/>
<polygon fill="#e67300" points="687.5,202.5 700.0,182.5 710.0,180.0 712.5,190.0 702.5,205.0 692.5,212.5 685.0,210.0"/>
<polygon fill="#e60000" points="693.8,190.0 700.0,183.8 702.5,187.5 696.2,202.5 691.2,202.5"/>
<polygon fill="#ffb266" points="700.0,170.0 727.5,170.0 722.5,185.0 712.5,190.0 705.0,182.5"/>
<polygon fill="#e60000" points="723.8,272.5 727.5,272.5 727.5,287.5 723.8,287.5"/>
<polygon fill="#e67300" points="635.0,330.0 652.5,325.0 670.0,330.0 685.0,340.0 690.0,355.0 685.0,370.0 635.0,370.0"/>
<polygon fill="#e60000" points="642.5,332.5 652.5,327.5 665.0,332.5 670.0,345.0 675.0,360.0 670.0,370.0 645.0,370.0 640.0,355.0"/>
<polygon fill="#730000" points="647.5,355.0 655.0,355.0 655.0,365.0 647.5,365.0"/>
<polygon fill="#e60000" points="680.0,340.0 687.5,337.5 690.0,347.5 682.5,350.0"/>
<polygon fill="#e67300" points="540.0,336.2 620.0,336.2 620.0,370.0 540.0,370.0"/>
<polygon fill="#ffb266" points="545.0,342.5 560.0,340.0 567.5,350.0 562.5,365.0 547.5,367.5 542.5,355.0"/>
<polygon fill="#ffb266" points="575.0,345.0 590.0,342.5 597.5,352.5 592.5,365.0 577.5,367.5"/>
<polygon fill="#ffb266" points="602.5,340.0 615.0,340.0 617.5,350.0 605.0,352.5"/>
<polygon fill="#ffff66" points="752.5,230.0 762.5,212.5 780.0,202.5 790.0,195.0 790.0,203.8 780.0,207.5 762.5,217.5 757.5,223.8"/>
<polygon fill="#ffff66" points="747.5,237.5 757.5,228.8 770.0,227.5 790.0,230.0 790.0,238.0 770.0,241.2 752.5,245.0"/>
<polygon fill="#ffb266" points="762.5,226.2 782.5,222.5 790.0,223.8 790.0,230.0 770.0,231.2"/>
<polygon fill="#e67300" points="732.5,240.0 740.0,225.0 745.5,207.5 747.5,220.0 742.5,235.0 735.0,247.5"/>
</g>
<g clip-path="url(#t7)">
<rect x="539" y="369" width="252" height="202" fill="#ffffff"/>
<polygon fill="#e67300" points="540.0,370.0 590.0,370.0 590.0,445.0 587.5,510.0 590.0,570.0 540.0,570.0"/>
<polygon fill="#e60000" points="555.0,420.0 565.0,415.0 567.5,435.0 562.5,450.0 572.5,465.0 577.5,480.0 580.0,495.0 565.0,480.0 555.0,470.0 545.0,465.0 542.5,452.5 552.5,445.0"/>
<polygon fill="#730000" points="545.0,455.0 557.5,457.5 560.0,470.0 550.0,472.5"/>
<polygon fill="#e60000" points="540.0,487.5 555.0,490.0 565.0,500.0 577.5,510.0 585.0,520.0 580.0,530.0 565.0,520.0 552.5,510.0 540.0,500.0"/>
<polygon fill="#e60000" points="577.5,495.0 590.0,500.0 590.0,520.0 582.5,515.0"/>
<polygon fill="#ffb266" points="540.0,422.5 550.0,420.0 552.5,445.0 542.5,452.5 540.0,452.5"/>
<polygon fill="#ffb266" points="540.0,525.0 555.0,530.0 565.0,545.0 567.5,570.0 540.0,570.0"/>
<polygon fill="#ffb266" points="542.5,380.0 552.5,377.5 555.0,392.5 545.0,395.0"/>
<polygon fill="#ffb266" points="562.5,395.0 567.5,395.0 567.5,420.0 562.5,420.0"/>
<polygon fill="#e60000" points="555.0,370.0 575.0,370.0 570.0,385.0 560.0,380.0"/>
<polygon fill="#e60000" points="565.0,390.0 575.0,385.0 577.5,420.0 567.5,425.0"/>
<polygon fill="#730000" points="575.0,370.0 655.0,370.0 680.0,427.5 680.0,485.0 640.0,570.0 590.0,570.0 575.0,470.0"/>
<polygon fill="#e67300" points="622.5,370.0 650.0,370.0 650.0,385.0 622.5,387.5"/>
<polygon fill="#e67300" points="590.0,370.0 622.5,370.0 622.5,380.0 597.5,385.0 585.0,397.5"/>
<polygon fill="#e60000" points="590.0,382.5 605.0,373.8 615.0,370.0 620.0,370.0 615.0,385.0 602.5,395.0 595.0,402.5 587.5,397.5"/>
<polygon fill="#e60000" points="585.0,452.5 597.5,455.0 600.0,465.0 590.0,470.0"/>
<polygon fill="#e60000" points="622.5,487.5 640.0,475.0 652.5,470.0 670.0,465.0 670.0,485.0 650.0,495.0 640.0,502.5 627.5,505.0 620.0,495.0"/>
<polygon fill="#730000" points="635.0,487.5 647.5,480.0 650.0,487.5 640.0,495.0"/>
<polygon fill="#e60000" points="625.0,505.0 645.0,502.5 645.0,520.0 635.0,570.0 602.5,570.0 612.5,545.0 622.5,525.0"/>
<polygon fill="#730000" points="610.0,545.0 620.0,535.0 622.5,545.0 615.0,560.0 607.5,570.0 602.5,570.0"/>
<polygon fill="#e67300" points="615.0,500.0 627.5,502.5 625.0,510.0 617.5,507.5"/>
<polygon fill="#e60000" points="657.5,427.5 670.0,427.5 670.0,440.0 658.8,437.5"/>
<polygon fill="#e60000" points="627.5,400.0 631.2,400.0 631.2,410.0 627.5,410.0"/>
<polygon fill="#e60000" points="635.0,385.0 638.8,385.0 638.8,392.5 635.0,392.5"/>
<polygon fill="#ffff66" points="655.0,365.0 720.0,365.0 702.5,380.0 690.0,395.0 682.5,412.5 676.2,413.8 676.2,400.0 670.0,385.0 662.5,382.5"/>
<polygon fill="#ffb266" points="657.5,365.0 670.0,365.0 670.0,377.5 660.0,377.5"/>
</g>
<g clip-path="url(#t8)">
<rect x="539" y="569" width="252" height="202" fill="#ffb266"/>
<polygon fill="#e67300" points="540.0,570.0 590.0,570.0 587.5,585.0 575.0,600.0 565.0,590.0 555.0,585.0 540.0,582.5"/>
<polygon fill="#e67300" points="540.0,607.5 550.0,605.0 560.0,620.0 555.0,635.0 540.0,637.5"/>
<polygon fill="#ffff66" points="565.0,615.0 580.0,612.5 597.5,620.0 600.0,640.0 585.0,642.5 575.0,635.0 567.5,627.5"/>
<polygon fill="#c8c8c8" points="567.5,621.2 573.8,621.2 573.8,628.8 567.5,628.8"/>
<polygon fill="#ffff66" points="570.0,645.0 597.5,645.0 602.5,665.0 600.0,680.0 585.0,685.0 572.5,687.5 562.5,677.5 577.5,670.0 575.0,657.5"/>
<polygon fill="#c8c8c8" points="597.5,647.5 605.0,650.0 612.5,670.0 615.0,682.5 605.0,680.0 600.0,665.0"/>
<polygon fill="#ffff66" points="540.0,655.0 550.0,652.5 552.5,660.0 540.0,662.5"/>
<polygon fill="#ffff66" points="540.0,687.5 550.0,687.5 550.0,700.0 540.0,700.0"/>
<polygon fill="#e67300" points="540.0,710.0 565.0,710.0 565.0,730.0 540.0,730.0"/>
<polygon fill="#ffff66" points="577.5,702.5 590.0,700.0 597.5,730.0 580.0,730.0"/>
<polygon fill="#c8c8c8" points="587.5,700.0 602.5,700.0 602.5,730.0 595.0,730.0"/>
<polygon fill="#c8c8c8" points="605.0,700.0 622.5,702.5 623.8,730.0 605.0,730.0"/>
<polygon fill="#e67300" points="572.5,577.5 582.5,575.0 585.0,590.0 577.5,592.5"/>
<polygon fill="#ffffff" points="567.0,713.8 576.2,713.8 576.2,723.0 567.0,723.0"/>
</g>
<g clip-path="url(#t9)">
<rect x="789" y="169" width="182" height="202" fill="#c8c8c8"/>
<polygon fill="#c8c8c8" points="790.0,170.0 920.0,170.0 917.5,177.5 895.0,182.5 870.0,183.8 845.0,188.8 825.0,190.0 815.0,188.8 802.5,197.5 790.0,203.8"/>
<polygon fill="#ffff66" points="790.0,195.0 802.5,190.0 815.0,180.0 832.5,177.5 850.0,176.2 860.0,180.0 845.0,187.0 825.0,188.8 816.2,186.2 802.5,196.2 790.0,203.8"/>
<polygon fill="#ffb266" points="850.0,170.0 895.0,170.0 895.0,180.0 875.0,182.0 855.0,183.8"/>
<polygon fill="#e67300" points="855.0,176.2 862.5,176.2 862.5,182.5 855.0,183.0"/>
<polygon fill="#e67300" points="870.0,175.0 880.0,175.0 880.0,181.2 871.2,182.0"/>
<polygon fill="#ffff66" points="895.0,170.0 917.5,170.0 915.0,177.5 895.0,181.2"/>
<polygon fill="#ffb266" points="790.0,218.8 840.0,215.8 850.0,220.0 870.0,210.0 892.5,205.0 870.0,217.5 830.0,233.0 815.0,235.5 810.0,232.5 802.5,227.5 790.0,230.0"/>
<polygon fill="#ffff66" points="840.0,215.8 870.0,192.5 875.0,195.0 850.0,220.0"/>
<polygon fill="#c8c8c8" points="790.0,237.5 805.0,233.8 815.0,235.5 805.0,243.8 790.0,250.0"/>
<polygon fill="#ffff66" points="790.0,230.0 802.5,227.5 810.0,232.5 805.0,234.5 790.0,238.0"/>
<polygon fill="#e67300" points="810.0,218.8 825.0,217.5 827.5,228.8 820.0,232.5 811.2,228.8"/>
<polygon fill="#e60000" points="822.5,217.5 840.0,216.2 837.5,221.2 827.5,223.8 822.5,222.5"/>
<polygon fill="#730000" points="825.0,217.0 837.5,216.2 835.0,219.5 826.2,220.0"/>
<polygon fill="#e67300" points="850.0,218.8 860.0,213.8 870.0,211.2 867.5,217.5 855.0,223.0"/>
<polygon fill="#e60000" points="852.5,218.8 860.0,216.2 860.0,219.5 853.8,221.2"/>
</g>
</g>
<g fill="#fff"><rect x="58.2" y="259.5" width="5" height="5"/>
<rect x="121.2" y="288.2" width="5" height="5"/>
<rect x="127.5" y="294.5" width="5" height="5"/>
<rect x="68.2" y="311.2" width="5" height="5"/>
<rect x="103.2" y="343.2" width="5" height="5"/>
<rect x="218.2" y="297.0" width="5" height="5"/>
<rect x="229.0" y="317.5" width="5" height="5"/>
<rect x="264.5" y="477.0" width="5" height="5"/>
<rect x="83.8" y="492.0" width="5" height="5"/>
<rect x="195.5" y="717.5" width="5" height="5"/>
<rect x="320.0" y="215.0" width="5" height="5"/>
<rect x="322.0" y="262.0" width="5" height="5"/>
<rect x="533.8" y="257.5" width="5" height="5"/>
<rect x="325.0" y="376.2" width="5" height="5"/>
<rect x="477.5" y="492.5" width="5" height="5"/>
<rect x="480.0" y="497.5" width="5" height="5"/>
<rect x="533.8" y="542.5" width="5" height="5"/>
<rect x="506.2" y="561.2" width="5" height="5"/>
<rect x="406.2" y="683.0" width="5" height="5"/>
<rect x="411.2" y="691.2" width="5" height="5"/>
<rect x="419.2" y="697.0" width="5" height="5"/>
<rect x="395.0" y="711.2" width="5" height="5"/>
<rect x="392.5" y="717.5" width="5" height="5"/>
<rect x="343.8" y="592.0" width="5" height="5"/>
<rect x="625.5" y="223.8" width="5" height="5"/>
<rect x="681.2" y="247.5" width="5" height="5"/>
<rect x="694.5" y="215.0" width="5" height="5"/>
<rect x="567.0" y="309.5" width="5" height="5"/>
<rect x="549.5" y="290.5" width="5" height="5"/>
<rect x="592.5" y="458.8" width="5" height="5"/>
<rect x="712.5" y="471.2" width="5" height="5"/>
<rect x="556.2" y="616.2" width="5" height="5"/>
<rect x="568.8" y="635.0" width="5" height="5"/></g>
<polygon points="917.5,174.0 915.0,176.2 905.0,178.8 895.0,180.5 885.0,182.0 875.0,181.2 865.0,183.0 855.0,183.8 845.0,187.0 835.0,188.0 825.0,187.5 816.2,185.5 812.5,189.5 802.5,195.0 795.0,198.0 787.5,202.0 780.0,207.5 770.0,212.5 762.5,217.5 757.5,223.8 752.5,230.0 757.5,226.2 765.0,223.0 773.8,220.0 782.5,221.2 790.0,218.8 800.0,216.2 810.0,217.0 820.0,216.5 830.0,216.5 838.8,215.8 845.0,210.0 852.5,203.8 860.0,198.8 870.0,193.8 867.5,196.2 860.0,202.5 852.5,207.5 847.5,212.5 842.5,217.5 845.0,220.0 850.0,220.0 855.0,217.5 862.5,215.0 870.0,210.0 872.5,203.8 875.0,207.5 880.0,207.5 887.5,205.8 890.0,207.5 882.5,211.2 870.0,216.2 860.0,221.2 850.0,225.5 840.0,229.5 830.0,232.5 820.0,236.2 812.5,240.0 805.0,243.8 795.0,248.0 785.0,249.5 775.0,250.5 765.0,252.0 755.0,253.8 747.5,256.2 743.8,255.0 741.2,252.5 735.0,256.2 730.0,258.8 725.0,261.2 722.5,263.0 727.5,265.0 735.0,266.2 739.5,263.8 742.5,266.2 744.2,272.5 743.2,280.0 740.5,290.0 739.5,300.0 738.0,310.0 737.0,320.0 735.0,330.0 731.2,342.5 726.2,352.5 721.2,361.2 720.0,363.8 720.0,363.8 712.0,370.5 703.0,378.0 698.5,385.5 692.5,396.0 686.5,408.0 680.5,413.2 676.0,412.5 674.5,411.8 676.0,405.0 679.0,396.0 676.0,388.5 670.0,385.5 662.5,388.5 659.5,382.5 655.0,376.5 649.0,372.0 641.5,366.0 637.0,360.0 634.8,354.0 632.5,360.0 635.5,366.0 640.0,373.5 643.8,384.0 645.2,396.0 649.0,405.0 653.5,414.0 656.5,420.0 657.5,417.5 667.5,427.5 670.0,445.0 668.8,462.5 663.8,477.5 661.0,486.0 655.0,498.0 647.5,510.0 640.0,522.0 634.0,534.0 631.0,546.0 625.0,561.0 617.5,576.0 610.0,588.0 605.5,591.0 601.8,583.5 602.5,570.0 606.0,552.0 610.0,540.0 616.0,526.0 622.0,515.0 614.0,508.0 606.0,512.0 600.0,505.0 598.0,495.0 596.0,482.5 590.0,472.5 582.5,462.5 582.0,441.0 579.0,433.5 577.5,423.0 579.0,414.0 583.5,405.0 588.0,399.0 585.0,393.0 586.5,387.0 589.5,378.0 594.0,372.0 600.0,366.0 603.0,360.0 601.5,355.5 600.0,354.0 598.5,354.8 595.5,360.0 589.5,364.5 583.5,367.5 577.5,373.5 573.0,381.0 571.5,388.5 574.5,396.0 576.0,403.5 573.0,411.0 570.0,420.0 568.5,432.0 568.0,445.0 572.5,454.0 577.0,463.0 578.5,472.0 579.7,484.0 581.0,494.5 581.5,498.8 580.0,492.0 575.5,487.5 569.5,484.5 563.5,481.5 557.0,482.0 550.0,481.8 541.0,478.0 535.8,472.0 535.0,464.5 532.8,459.2 527.5,460.0 521.5,466.0 517.0,460.0 516.2,449.5 518.5,439.0 514.8,442.0 512.5,452.5 511.8,464.5 515.5,470.5 521.5,470.5 526.0,464.5 530.5,464.5 532.0,472.0 533.5,481.0 538.0,487.0 547.0,490.0 553.0,492.0 563.5,499.5 571.0,504.0 583.0,510.0 587.5,516.0 584.5,525.0 581.5,537.0 586.0,550.5 587.5,561.0 584.5,570.0 577.0,576.0 580.0,585.0 583.0,594.0 583.0,600.0 580.0,602.5 572.5,597.5 565.0,587.5 557.5,580.0 550.0,576.2 540.0,573.8 530.0,571.0 520.0,568.0 520.0,571.0 530.0,575.0 540.0,578.8 550.0,582.5 557.5,590.0 563.8,600.0 570.0,607.5 577.5,611.2 585.0,607.5 595.0,606.2 602.5,607.0 605.5,615.0 607.5,625.0 611.2,642.5 616.2,662.5 622.5,685.0 630.0,705.0 638.8,725.0 638.8,735.0 965.0,735.0 965.0,165.0 917.0,165.0" fill="#fff" stroke="#000" stroke-width="2.8" stroke-linejoin="round"/>
<polygon points="552.0,701.2 555.5,695.0 553.8,680.0 551.2,668.8 555.0,666.2 558.0,680.0 560.5,690.0 572.5,692.5 585.0,687.5 595.0,682.5 603.8,680.0 607.5,670.0 602.5,652.5 603.8,645.0 607.5,652.5 612.5,670.0 617.5,685.0 623.8,700.0 628.8,715.0 632.5,730.0 625.0,730.0 622.5,710.0 620.0,702.5 615.0,698.8 607.5,698.8 602.5,705.0 597.5,697.5 587.5,700.0 582.5,705.0 577.5,697.5 565.0,702.5" fill="#fff" stroke="#000" stroke-width="2.8" stroke-linejoin="round"/>

<g fill="none" stroke="#000" stroke-width="1.5" stroke-dasharray="2.4 2.8"><polyline points="40.0,196.2 60.0,196.2 92.5,197.0 92.5,188.8 132.5,188.8"/>
<polyline points="40.0,223.8 87.5,223.8 87.5,213.8 132.5,213.8 160.0,213.8"/>
<polyline points="40.0,241.2 60.0,241.2 92.5,241.2 122.5,241.2 122.5,256.2 165.0,256.2"/>
<polyline points="40.0,261.2 85.0,261.2"/>
<polyline points="85.0,267.5 105.0,267.5 120.0,266.2"/>
<polyline points="165.0,210.0 180.0,210.0 215.0,211.2"/>
<polyline points="165.0,245.0 182.5,245.0 215.0,245.0 230.0,243.8"/>
<polyline points="175.0,292.5 210.0,293.8 212.5,295.0"/>
<polyline points="235.0,292.5 247.5,292.5 265.0,292.5"/>
<polyline points="110.0,327.5 135.0,327.5 165.0,330.0"/>
<polyline points="185.0,330.0 215.0,332.5 235.0,335.0"/>
<polyline points="40.0,325.0 60.0,323.8 80.0,330.0 102.5,332.5"/>
<polyline points="40.0,350.0 65.0,352.5 85.0,355.0"/>
<polyline points="260.0,200.0 290.0,200.0"/>
<polyline points="255.0,222.5 290.0,222.5"/>
<polyline points="277.5,307.5 290.0,307.5"/>
<polyline points="137.5,295.0 165.0,296.2"/>
<polyline points="135.0,317.5 162.5,317.5"/>
<polyline points="60.0,170.0 60.0,196.2"/>
<polyline points="92.5,170.0 92.5,241.2"/>
<polyline points="132.5,170.0 132.5,213.8"/>
<polyline points="162.5,170.0 162.5,213.8 165.0,245.0 165.0,256.2"/>
<polyline points="190.0,177.5 190.0,210.0"/>
<polyline points="215.0,185.0 215.0,245.0"/>
<polyline points="182.5,211.2 182.5,245.0"/>
<polyline points="60.0,223.8 60.0,261.2"/>
<polyline points="85.0,261.2 83.8,287.5 85.0,325.0"/>
<polyline points="122.5,256.2 120.0,287.5"/>
<polyline points="145.0,256.2 145.0,285.0"/>
<polyline points="176.2,256.2 177.5,292.5"/>
<polyline points="212.5,265.0 212.5,295.0"/>
<polyline points="235.0,245.0 235.0,292.5 237.5,320.0 240.0,350.0"/>
<polyline points="265.0,255.0 267.5,292.5"/>
<polyline points="135.0,295.0 135.0,360.0"/>
<polyline points="110.0,292.5 107.5,330.0 110.0,360.0"/>
<polyline points="185.0,320.0 185.0,350.0"/>
<polyline points="210.0,295.0 212.5,332.5"/>
<polyline points="252.5,177.5 252.5,200.0 255.0,222.5 252.5,245.0"/>
<polyline points="165.0,330.0 165.0,350.0 190.0,352.5"/>
<polyline points="85.0,325.0 87.5,355.0 90.0,370.0"/>
<polyline points="65.0,352.5 62.5,370.0"/>
<polyline points="40.0,381.2 65.0,381.2 92.5,382.5 97.5,387.5 135.0,388.8 135.0,407.5"/>
<polyline points="92.5,382.5 90.0,402.5 85.0,420.0"/>
<polyline points="137.5,370.0 140.0,385.0 170.0,387.5 170.0,370.0"/>
<polyline points="170.0,387.5 200.0,387.5"/>
<polyline points="135.0,407.5 150.0,420.0 147.5,440.0"/>
<polyline points="160.0,385.0 162.5,402.5 175.0,415.0"/>
<polyline points="65.0,381.2 67.5,402.5 62.5,427.5"/>
<polyline points="40.0,402.5 67.5,402.5"/>
<polyline points="77.5,440.0 80.0,457.5 70.0,475.0 55.0,482.5 40.0,487.5"/>
<polyline points="80.0,457.5 95.0,465.0 105.0,480.0 97.5,495.0 85.0,505.0 75.0,520.0 65.0,532.5 55.0,545.0 40.0,550.0"/>
<polyline points="55.0,482.5 65.0,495.0 75.0,520.0"/>
<polyline points="115.0,452.5 125.0,465.0 140.0,475.0 147.5,480.0"/>
<polyline points="105.0,480.0 120.0,487.5 135.0,482.5"/>
<polyline points="120.0,487.5 125.0,505.0 115.0,520.0 105.0,530.0 95.0,525.0"/>
<polyline points="125.0,505.0 140.0,510.0 150.0,520.0 160.0,530.0 165.0,545.0"/>
<polyline points="105.0,530.0 110.0,545.0 125.0,550.0 140.0,545.0 150.0,532.5"/>
<polyline points="75.0,520.0 90.0,535.0 105.0,530.0"/>
<polyline points="90.0,535.0 85.0,550.0 90.0,570.0"/>
<polyline points="125.0,550.0 130.0,570.0"/>
<polyline points="150.0,520.0 155.0,510.0"/>
<polyline points="65.0,532.5 70.0,550.0 65.0,570.0"/>
<polyline points="200.0,387.5 215.0,400.0 225.0,412.5 222.5,432.5 215.0,445.0 225.0,450.0 240.0,452.5 255.0,440.0 265.0,427.5 275.0,420.0 290.0,407.5"/>
<polyline points="240.0,382.5 237.5,400.0 225.0,412.5"/>
<polyline points="255.0,402.5 260.0,415.0 265.0,427.5"/>
<polyline points="275.0,395.0 285.0,410.0"/>
<polyline points="202.5,480.0 215.0,485.0 225.0,500.0 230.0,515.0"/>
<polyline points="240.0,452.5 240.0,465.0 245.0,477.5 260.0,470.0 270.0,452.5 280.0,445.0 290.0,450.0"/>
<polyline points="245.0,477.5 235.0,490.0 225.0,500.0"/>
<polyline points="260.0,470.0 267.5,487.5 280.0,495.0 290.0,492.5"/>
<polyline points="230.0,515.0 245.0,520.0 260.0,515.0 267.5,502.5 267.5,487.5"/>
<polyline points="200.0,510.0 215.0,515.0 220.0,530.0 210.0,545.0 200.0,550.0"/>
<polyline points="220.0,530.0 235.0,535.0 245.0,520.0"/>
<polyline points="235.0,535.0 240.0,550.0 235.0,565.0"/>
<polyline points="260.0,515.0 265.0,530.0 260.0,545.0 245.0,555.0 240.0,550.0"/>
<polyline points="180.0,420.0 190.0,435.0 185.0,455.0 190.0,470.0 200.0,480.0"/>
<polyline points="190.0,435.0 205.0,430.0 222.5,432.5"/>
<polyline points="160.0,465.0 175.0,470.0 190.0,470.0"/>
<polyline points="152.5,500.0 170.0,495.0 180.0,505.0 185.0,520.0"/>
<polyline points="55.0,570.0 60.0,585.0 55.0,602.5 60.0,620.0 55.0,635.0"/>
<polyline points="82.5,570.0 85.0,585.0 80.0,602.5"/>
<polyline points="60.0,585.0 85.0,585.0 105.0,592.5 120.0,585.0 130.0,570.0"/>
<polyline points="105.0,592.5 115.0,602.5 110.0,617.5"/>
<polyline points="80.0,602.5 95.0,612.5 90.0,630.0"/>
<polyline points="145.0,590.0 150.0,605.0 165.0,610.0 180.0,602.5"/>
<polyline points="150.0,605.0 145.0,620.0 150.0,635.0"/>
<polyline points="165.0,610.0 170.0,625.0 167.5,637.5"/>
<polyline points="175.0,577.5 180.0,602.5 195.0,615.0 210.0,612.5"/>
<polyline points="195.0,615.0 200.0,630.0 215.0,635.0"/>
<polyline points="210.0,612.5 225.0,600.0 235.0,585.0 245.0,577.5"/>
<polyline points="225.0,600.0 240.0,610.0 255.0,605.0 265.0,590.0"/>
<polyline points="240.0,610.0 245.0,627.5 240.0,640.0"/>
<polyline points="265.0,590.0 280.0,595.0 290.0,590.0"/>
<polyline points="265.0,620.0 280.0,627.5 290.0,625.0"/>
<polyline points="47.5,642.5 55.0,657.5 72.5,662.5 75.0,675.0 67.5,690.0 55.0,700.0"/>
<polyline points="72.5,662.5 90.0,655.0 105.0,645.0 120.0,640.0"/>
<polyline points="90.0,655.0 95.0,670.0 110.0,680.0 105.0,695.0 90.0,705.0 85.0,720.0"/>
<polyline points="110.0,680.0 125.0,670.0 140.0,655.0 145.0,642.5"/>
<polyline points="125.0,670.0 140.0,680.0 150.0,670.0 165.0,670.0"/>
<polyline points="165.0,670.0 170.0,655.0 185.0,650.0 190.0,640.0"/>
<polyline points="165.0,670.0 175.0,680.0"/>
<polyline points="67.5,690.0 80.0,700.0 90.0,705.0"/>
<polyline points="55.0,700.0 60.0,715.0"/>
<polyline points="140.0,705.0 150.0,715.0 160.0,710.0 170.0,720.0"/>
<polyline points="190.0,665.0 200.0,652.5 210.0,645.0"/>
<polyline points="200.0,680.0 205.0,695.0 195.0,710.0 190.0,725.0"/>
<polyline points="215.0,680.0 230.0,690.0 240.0,705.0 235.0,725.0"/>
<polyline points="230.0,690.0 250.0,685.0 265.0,670.0 267.5,655.0"/>
<polyline points="265.0,670.0 280.0,675.0 290.0,670.0"/>
<polyline points="250.0,685.0 260.0,705.0 275.0,710.0 290.0,705.0"/>
<polyline points="260.0,705.0 260.0,725.0"/>
<polyline points="327.5,170.0 327.5,196.2 350.0,196.2"/>
<polyline points="350.0,170.0 350.0,245.0"/>
<polyline points="382.5,170.0 382.5,245.0"/>
<polyline points="350.0,211.2 365.0,213.8 382.5,210.0"/>
<polyline points="382.5,221.2 407.5,221.2"/>
<polyline points="410.0,195.0 415.0,190.0 437.5,187.5 450.0,187.5 450.0,175.0"/>
<polyline points="410.0,195.0 408.8,220.0 410.0,240.0 405.0,255.0 397.5,270.0 390.0,285.0 380.0,305.0 370.0,330.0"/>
<polyline points="410.0,240.0 435.0,238.8 460.0,237.5 480.0,235.0 507.5,232.5 540.0,227.5"/>
<polyline points="295.0,227.5 317.5,227.5 317.5,245.0 350.0,245.0"/>
<polyline points="327.5,196.2 317.5,210.0 317.5,227.5"/>
<polyline points="292.5,263.8 305.0,263.8 317.5,277.5 335.0,290.0 335.0,302.5 332.5,310.0 333.8,335.0"/>
<polyline points="317.5,245.0 310.0,255.0 305.0,263.8"/>
<polyline points="350.0,245.0 355.0,255.0 365.0,265.0 382.5,270.0 397.5,270.0"/>
<polyline points="342.5,270.0 343.8,282.5 335.0,290.0"/>
<polyline points="335.0,300.0 355.0,295.0 365.0,297.5 372.5,305.0 380.0,305.0"/>
<polyline points="295.0,312.5 310.0,307.5 327.5,310.0 332.5,310.0"/>
<polyline points="465.0,177.5 460.0,195.0 460.0,212.5 450.0,220.0 440.0,238.8"/>
<polyline points="460.0,195.0 475.0,195.0 490.0,205.0 502.5,212.5 515.0,220.0 515.0,232.5"/>
<polyline points="502.5,180.0 510.0,192.5 515.0,200.0 530.0,205.0 540.0,200.0"/>
<polyline points="430.0,238.8 427.5,265.0 420.0,280.0 410.0,310.0 412.5,335.0"/>
<polyline points="445.0,277.5 455.0,290.0 465.0,300.0 470.0,310.0 465.0,325.0 460.0,335.0"/>
<polyline points="475.0,270.0 485.0,280.0 490.0,295.0 500.0,310.0 502.5,335.0"/>
<polyline points="475.0,270.0 490.0,255.0 505.0,245.0 515.0,232.5"/>
<polyline points="505.0,280.0 520.0,275.0 540.0,270.0"/>
<polyline points="500.0,310.0 520.0,300.0 540.0,295.0"/>
<polyline points="530.0,232.5 532.5,250.0 540.0,252.5"/>
<polyline points="315.0,345.0 325.0,350.0 335.0,365.0"/>
<polyline points="295.0,360.0 310.0,365.0 320.0,370.0"/>
<polyline points="440.0,360.0 450.0,370.0"/>
<polyline points="497.5,342.5 495.0,360.0 490.0,370.0"/>
<polyline points="382.5,170.0 400.0,177.5 415.0,190.0"/>
<polyline points="290.0,390.0 305.0,395.0 315.0,385.0 335.0,377.5 340.0,390.0 362.5,387.5"/>
<polyline points="305.0,395.0 307.5,412.5 297.5,430.0 290.0,435.0"/>
<polyline points="307.5,412.5 322.5,417.5 340.0,407.5 340.0,390.0"/>
<polyline points="322.5,417.5 320.0,435.0 315.0,455.0 302.5,465.0 290.0,470.0"/>
<polyline points="340.0,407.5 360.0,410.0 370.0,410.0"/>
<polyline points="320.0,435.0 340.0,432.5 355.0,437.5 352.5,447.5"/>
<polyline points="315.0,455.0 332.5,452.5 340.0,432.5"/>
<polyline points="302.5,465.0 302.5,482.5"/>
<polyline points="332.5,452.5 340.0,467.5"/>
<polyline points="390.0,377.5 407.5,390.0 430.0,395.0 440.0,410.0"/>
<polyline points="375.0,415.0 390.0,420.0"/>
<polyline points="440.0,410.0 435.0,427.5 420.0,435.0 410.0,432.5"/>
<polyline points="440.0,410.0 460.0,402.5 470.0,387.5"/>
<polyline points="435.0,427.5 450.0,437.5 465.0,430.0 480.0,420.0 487.5,402.5"/>
<polyline points="450.0,437.5 445.0,455.0 430.0,470.0 415.0,485.0 400.0,487.5"/>
<polyline points="480.0,420.0 495.0,430.0 502.5,445.0 490.0,460.0 480.0,470.0"/>
<polyline points="502.5,445.0 515.0,455.0 510.0,470.0"/>
<polyline points="370.0,470.0 382.5,480.0 400.0,487.5 405.0,505.0 390.0,515.0 380.0,510.0"/>
<polyline points="400.0,487.5 415.0,495.0 417.5,510.0 407.5,525.0 400.0,545.0 390.0,560.0"/>
<polyline points="480.0,470.0 490.0,480.0 505.0,477.5 515.0,487.5 510.0,505.0 520.0,520.0 540.0,525.0"/>
<polyline points="445.0,455.0 465.0,465.0 480.0,470.0"/>
<polyline points="430.0,470.0 440.0,487.5 455.0,495.0 475.0,490.0 490.0,480.0"/>
<polyline points="455.0,495.0 460.0,510.0 450.0,525.0 435.0,535.0 425.0,550.0 415.0,555.0"/>
<polyline points="460.0,510.0 480.0,515.0 495.0,510.0 510.0,505.0"/>
<polyline points="480.0,515.0 490.0,535.0 485.0,550.0 470.0,555.0 465.0,570.0"/>
<polyline points="435.0,535.0 450.0,545.0 470.0,555.0"/>
<polyline points="490.0,535.0 510.0,540.0 520.0,520.0"/>
<polyline points="510.0,540.0 515.0,560.0 530.0,565.0"/>
<polyline points="360.0,495.0 372.5,510.0 365.0,525.0 352.5,540.0"/>
<polyline points="372.5,510.0 390.0,515.0"/>
<polyline points="365.0,525.0 380.0,535.0 395.0,532.5 407.5,525.0"/>
<polyline points="380.0,535.0 375.0,555.0 365.0,570.0"/>
<polyline points="315.0,510.0 327.5,520.0"/>
<polyline points="340.0,545.0 350.0,560.0"/>
<polyline points="515.0,380.0 525.0,395.0 515.0,405.0"/>
<polyline points="290.0,612.5 310.0,607.5 325.0,612.5 335.0,627.5"/>
<polyline points="310.0,607.5 315.0,590.0 325.0,570.0"/>
<polyline points="347.5,600.0 350.0,620.0 347.5,642.5"/>
<polyline points="360.0,585.0 387.5,595.0 390.0,610.0 385.0,642.5"/>
<polyline points="387.5,595.0 410.0,600.0 415.0,585.0 420.0,570.0"/>
<polyline points="410.0,600.0 415.0,620.0 420.0,627.5"/>
<polyline points="432.5,590.0 435.0,605.0 450.0,615.0 465.0,617.5"/>
<polyline points="435.0,605.0 420.0,620.0"/>
<polyline points="465.0,595.0 465.0,617.5 462.5,642.5"/>
<polyline points="465.0,595.0 485.0,585.0 500.0,570.0"/>
<polyline points="485.0,585.0 490.0,605.0 505.0,612.5 515.0,600.0 530.0,595.0 540.0,597.5"/>
<polyline points="505.0,612.5 510.0,630.0 525.0,642.5"/>
<polyline points="450.0,570.0 450.0,587.5 465.0,595.0"/>
<polyline points="295.0,645.0 295.0,672.5 325.0,672.5 325.0,645.0"/>
<polyline points="325.0,672.5 360.0,672.5 360.0,645.0"/>
<polyline points="360.0,672.5 410.0,672.5 410.0,645.0"/>
<polyline points="410.0,672.5 435.0,680.0 440.0,645.0"/>
<polyline points="295.0,672.5 290.0,690.0"/>
<polyline points="325.0,672.5 322.5,700.0 315.0,725.0"/>
<polyline points="360.0,672.5 360.0,700.0 357.5,725.0"/>
<polyline points="360.0,700.0 390.0,705.0 400.0,715.0"/>
<polyline points="410.0,672.5 410.0,687.5 400.0,715.0 395.0,725.0"/>
<polyline points="435.0,680.0 440.0,700.0 430.0,720.0"/>
<polyline points="440.0,700.0 460.0,695.0 470.0,680.0 470.0,645.0"/>
<polyline points="470.0,680.0 490.0,675.0 510.0,680.0 525.0,670.0 525.0,645.0"/>
<polyline points="510.0,680.0 515.0,700.0 530.0,715.0 535.0,725.0"/>
<polyline points="490.0,675.0 490.0,645.0"/>
<polyline points="460.0,695.0 465.0,725.0"/>
<polyline points="540.0,197.5 555.0,195.0 565.0,202.5 565.0,215.0 555.0,222.5 540.0,225.0"/>
<polyline points="565.0,202.5 585.0,200.0 590.0,190.0 572.5,185.0 577.5,170.0"/>
<polyline points="590.0,190.0 602.5,180.0 615.0,177.5 622.5,185.0"/>
<polyline points="585.0,200.0 590.0,215.0 605.0,222.5 622.5,215.0 635.0,207.5 640.0,195.0 640.0,175.0"/>
<polyline points="640.0,185.0 652.5,187.5 665.0,190.0 672.5,202.5"/>
<polyline points="635.0,207.5 637.5,225.0 632.5,235.0"/>
<polyline points="540.0,245.0 555.0,242.5 565.0,255.0 557.5,270.0 540.0,282.5"/>
<polyline points="565.0,255.0 590.0,252.5 605.0,247.5 615.0,242.5 632.5,235.0"/>
<polyline points="557.5,270.0 570.0,280.0 590.0,275.0 605.0,280.0 612.5,295.0"/>
<polyline points="615.0,242.5 625.0,255.0 635.0,265.0 645.0,275.0 655.0,287.5 670.0,302.5"/>
<polyline points="590.0,275.0 595.0,257.5"/>
<polyline points="540.0,285.0 552.5,295.0 565.0,290.0 570.0,280.0"/>
<polyline points="605.0,295.0 602.5,312.5 605.0,325.0 615.0,330.0 622.5,330.0"/>
<polyline points="552.5,295.0 555.0,310.0 565.0,320.0 577.5,330.0 585.0,335.0"/>
<polyline points="612.5,295.0 630.0,287.5 640.0,290.0 650.0,307.5 662.5,320.0"/>
<polyline points="635.0,265.0 650.0,252.5 657.5,245.0"/>
<polyline points="680.0,195.0 690.0,212.5 702.5,207.5 715.0,202.5 730.0,192.5 742.5,185.0"/>
<polyline points="690.0,212.5 695.0,227.5 712.5,237.5 725.0,227.5 732.5,212.5 730.0,192.5"/>
<polyline points="670.0,220.0 682.5,232.5 695.0,227.5"/>
<polyline points="712.5,237.5 715.0,252.5 722.5,262.5"/>
<polyline points="670.0,255.0 685.0,252.5 700.0,245.0 712.5,237.5"/>
<polyline points="690.0,295.0 705.0,287.5 720.0,275.0 730.0,265.0"/>
<polyline points="675.0,275.0 690.0,270.0 702.5,275.0 715.0,270.0"/>
<polyline points="670.0,310.0 685.0,325.0 700.0,345.0 710.0,360.0 715.0,370.0"/>
<polyline points="650.0,325.0 665.0,340.0 680.0,352.5 690.0,360.0"/>
<polyline points="705.0,287.5 715.0,305.0 725.0,310.0"/>
<polyline points="700.0,345.0 715.0,340.0 727.5,342.5"/>
<polyline points="565.0,336.2 570.0,350.0 580.0,360.0 590.0,370.0"/>
<polyline points="597.5,336.2 602.5,350.0 610.0,360.0"/>
<polyline points="747.5,185.0 765.0,177.5 772.5,170.0"/>
<polyline points="780.0,230.0 782.5,242.5"/>
<polyline points="540.0,177.5 555.0,185.0 572.5,185.0"/>
<polyline points="587.5,395.0 602.5,397.5 622.5,396.2"/>
<polyline points="597.5,420.0 622.5,422.5"/>
<polyline points="590.0,445.0 605.0,440.0 623.8,442.5"/>
<polyline points="622.5,458.8 610.0,470.0 605.0,487.5"/>
<polyline points="640.0,410.0 650.0,407.5"/>
<polyline points="623.8,432.5 645.0,432.5 665.0,432.5"/>
<polyline points="635.0,490.0 627.5,505.0"/>
<polyline points="540.0,395.0 555.0,390.0 570.0,392.5"/>
<polyline points="555.0,390.0 552.5,420.0 562.5,435.0"/>
<polyline points="540.0,457.5 552.5,445.0"/>
<polyline points="540.0,520.0 560.0,530.0 577.5,545.0"/>
<polyline points="555.0,530.0 550.0,550.0 560.0,570.0"/>
<polyline points="565.0,510.0 555.0,520.0"/>
<polyline points="540.0,432.5 552.5,420.0"/>
<polyline points="540.0,592.5 555.0,600.0 565.0,610.0 560.0,625.0 550.0,635.0 540.0,632.5"/>
<polyline points="565.0,610.0 585.0,615.0 595.0,607.5"/>
<polyline points="560.0,625.0 570.0,642.5"/>
<polyline points="585.0,615.0 590.0,630.0 587.5,642.5"/>
<polyline points="570.0,645.0 575.0,660.0 565.0,675.0 555.0,680.0"/>
<polyline points="587.5,645.0 595.0,660.0 605.0,680.0"/>
<polyline points="575.0,660.0 590.0,665.0 595.0,660.0"/>
<polyline points="540.0,670.0 555.0,680.0 560.0,690.0"/>
<polyline points="555.0,595.0 565.0,585.0 570.0,575.0"/>
<polyline points="540.0,710.0 555.0,715.0 565.0,725.0"/></g>
<g fill="none" stroke="#000" stroke-width="2.9" stroke-linejoin="round"><polyline points="290.0,249.5 284.5,252.5 283.8,260.0 286.2,270.0 283.8,280.0 280.5,290.0 277.5,300.0 275.0,310.0 273.8,320.0 269.5,330.0 268.0,340.0 266.2,348.8 260.0,355.5 247.5,363.0 237.5,370.0"/>
<polyline points="40.0,428.0 55.0,428.8 65.0,432.5 72.5,438.8 85.0,436.2 95.0,438.8 102.5,442.5 112.5,440.0 120.0,432.5 128.8,430.0 131.2,440.0 137.5,447.5 145.0,455.0 149.5,463.8 165.0,460.0 172.5,455.0 176.2,445.0 175.0,430.0 180.0,415.0 187.5,405.0 195.0,407.5 197.5,417.5 205.0,412.5 203.8,400.0 210.0,385.0 222.5,375.0 237.5,370.0"/>
<polyline points="149.5,463.8 150.0,475.0 146.2,487.5 152.5,500.0 157.5,512.5 165.0,525.0 172.5,535.0 180.0,542.5 190.0,548.8"/>
<polyline points="170.0,570.0 180.0,560.0 190.0,548.8 196.2,550.0 193.8,560.0 200.0,570.0"/>
<polyline points="40.0,638.8 190.0,638.0 212.5,637.5 290.0,642.5"/>
<polyline points="72.5,638.0 90.0,630.0 110.0,623.8 115.0,615.0 127.5,610.0 132.5,600.0 140.0,595.0 142.5,587.5 155.0,580.0 170.0,570.0"/>
<polyline points="212.5,638.0 210.0,647.5 211.2,662.5 202.5,661.2 195.0,670.0 185.0,680.0 182.5,686.2 172.5,680.0 160.0,686.2 152.5,700.0 145.0,690.0 137.5,702.5 127.5,700.0 125.0,715.0 115.0,717.5 102.5,726.2"/>
<polyline points="292.5,170.0 292.5,336.0"/>
<polyline points="292.2,336.0 540.0,336.0"/>
<polyline points="363.8,336.0 363.8,370.0"/>
<polyline points="381.2,370.0 390.0,360.5 400.0,362.5 409.5,345.5 420.0,355.0 435.0,356.5 440.0,345.5 455.0,340.0 470.0,348.0 476.2,357.5 482.5,370.0"/>
<polyline points="364.0,370.0 364.0,386.2 380.0,373.0 383.0,370.0"/>
<polyline points="441.2,370.0 437.5,382.5 430.0,397.5 425.0,405.0 415.0,415.0 408.8,431.2 397.5,421.2 393.8,435.0 386.2,447.5 376.2,462.5 365.0,457.5 357.5,447.5 351.2,447.5 348.8,460.0 342.5,470.0 340.0,477.5 332.5,490.0 325.0,505.0 315.0,520.0 310.0,530.0 312.5,540.0 307.5,550.0 295.0,558.8 290.0,553.8"/>
<polyline points="450.0,370.0 477.5,392.5 483.8,375.0"/>
<polyline points="485.0,370.0 483.8,375.0 497.5,377.5 502.5,392.5 515.0,402.5 525.0,412.5 530.0,407.5 537.5,415.0 533.8,430.0 525.0,437.5"/>
<polyline points="290.0,643.0 540.0,643.0"/>
<polyline points="690.0,170.0 747.5,211.2"/>
<polyline points="692.5,178.8 682.5,185.0 680.0,195.0 672.5,202.5 663.8,215.0 667.5,223.0 670.0,220.0 668.8,230.0 661.2,237.5 657.5,245.0 660.0,252.5 665.0,255.0 668.8,267.5 675.0,275.0 685.0,286.2 691.2,293.8 680.0,302.5 670.0,310.0 663.8,315.0 662.5,322.5 645.0,325.0 630.0,325.5 622.5,330.0 620.0,335.5"/>
<polyline points="540.0,335.5 620.0,335.5 620.5,370.0"/>
<polyline points="772.5,170.0 776.2,190.0 761.2,202.5 762.5,215.0"/>
<polyline points="722.5,263.8 727.5,252.5 737.5,242.5 745.0,230.0 748.8,217.5 749.5,202.5 746.2,192.5 743.8,185.0"/>
<polyline points="725.0,263.0 732.5,252.5 740.0,245.0 747.5,232.5 751.2,217.5 751.2,202.5 748.0,192.5 745.0,185.5"/>
<polyline points="620.5,370.0 623.8,458.8 668.8,458.8"/>
<polyline points="627.5,500.5 645.0,487.5 662.5,475.0"/>
<polyline points="540.0,643.0 615.0,643.0"/></g>
<polyline points="580.0,541.5 572.0,539.0 566.0,532.0 560.0,528.0 556.0,520.0 549.0,514.0 545.0,506.0 538.0,500.0 534.0,493.0 527.0,488.0" fill="none" stroke="#000" stroke-width="3.2" stroke-linejoin="round" stroke-linecap="round"/>
<polyline points="577.0,576.0 570.0,575.0 565.0,570.0 559.0,566.0 555.0,558.0 550.0,552.0" fill="none" stroke="#000" stroke-width="3.2" stroke-linejoin="round" stroke-linecap="round"/>
<polyline points="580.0,493.0 578.5,484.0 572.5,472.0 565.0,466.0 559.0,460.0 556.0,451.0 554.5,445.0" fill="none" stroke="#000" stroke-width="3.2" stroke-linejoin="round" stroke-linecap="round"/>
<polyline points="521.0,569.5 512.0,569.0 506.0,558.0 503.0,548.0" fill="none" stroke="#000" stroke-width="3.2" stroke-linejoin="round" stroke-linecap="round"/>
<polyline points="580.0,541.5 572.0,539.0 566.0,532.0 560.0,528.0 556.0,520.0 549.0,514.0 545.0,506.0 538.0,500.0 534.0,493.0 527.0,488.0" fill="none" stroke="#fff" stroke-width="0.9" stroke-linejoin="round" stroke-linecap="round"/>
<polyline points="577.0,576.0 570.0,575.0 565.0,570.0 559.0,566.0 555.0,558.0 550.0,552.0" fill="none" stroke="#fff" stroke-width="0.9" stroke-linejoin="round" stroke-linecap="round"/>
<polyline points="580.0,493.0 578.5,484.0 572.5,472.0 565.0,466.0 559.0,460.0 556.0,451.0 554.5,445.0" fill="none" stroke="#fff" stroke-width="0.9" stroke-linejoin="round" stroke-linecap="round"/>
<polyline points="521.0,569.5 512.0,569.0 506.0,558.0 503.0,548.0" fill="none" stroke="#fff" stroke-width="0.9" stroke-linejoin="round" stroke-linecap="round"/>
<polygon points="417.5,622.5 422.5,632.5 432.5,637.5 442.5,638.8 445.0,645.0 440.0,650.0 437.5,642.5 427.5,638.8 420.0,632.5 415.0,627.5" fill="#fff" stroke="#000" stroke-width="1.6" stroke-linejoin="round"/>
<polygon points="455.0,640.0 465.0,642.5 475.0,645.0 487.5,650.0 485.0,652.5 470.0,648.8 462.5,647.5 455.0,643.8" fill="#fff" stroke="#000" stroke-width="1.6" stroke-linejoin="round"/>
<polygon points="345.0,580.0 350.0,590.0 357.5,595.0 352.5,597.5 346.2,593.8" fill="#fff" stroke="#000" stroke-width="1.6" stroke-linejoin="round"/>
<ellipse cx="599.5" cy="487.5" rx="2" ry="4" fill="#000"/>
<ellipse cx="601.75" cy="502.5" rx="2" ry="4.5" fill="#000"/>
<ellipse cx="604" cy="517.5" rx="2" ry="4" fill="#000"/>
<ellipse cx="597" cy="470" rx="2.5" ry="3" fill="#000"/>
<ellipse cx="907.5" cy="193" rx="1.8" ry="2" fill="#fff" stroke="#000" stroke-width="1.3"/><ellipse cx="908" cy="197" rx="2.3" ry="2.2" fill="#fff" stroke="#000" stroke-width="1.3"/>
<polyline points="608.0,513.0 602.0,506.0 600.0,495.0 598.0,482.5 593.0,472.5 587.0,462.5 588.0,445.0 586.0,433.5 584.0,423.0 585.0,412.0 589.0,402.0" fill="none" stroke="#000" stroke-width="6" stroke-dasharray="5 2.5" stroke-linejoin="round"/>
<polyline points="573.0,381.0 571.5,388.5 574.5,396.0 576.0,403.5 573.0,411.0 570.0,420.0 568.5,432.0" fill="none" stroke="#000" stroke-width="4" stroke-dasharray="4 3" stroke-linejoin="round"/>
<polyline points="744.2,272.5 743.2,280.0 740.5,290.0 739.5,300.0 738.0,310.0 737.0,320.0 735.0,330.0 731.2,342.5 726.2,352.5 721.2,361.2 720.0,363.8 720.0,363.8 712.0,370.5 703.0,378.0 698.5,385.5 692.5,396.0 686.5,408.0 680.5,413.2" fill="none" stroke="#000" stroke-width="4.6" stroke-linejoin="round"/>
<polyline points="870.0,216.2 860.0,221.2 850.0,225.5 840.0,229.5 830.0,232.5 820.0,236.2 812.5,240.0 805.0,243.8 795.0,248.0 785.0,249.5 775.0,250.5 765.0,252.0 755.0,253.8 747.5,256.2" fill="none" stroke="#000" stroke-width="4.2" stroke-linejoin="round"/>
<polyline points="885.0,182.0 875.0,181.2 865.0,183.0 855.0,183.8 845.0,187.0 835.0,188.0 825.0,187.5 816.2,185.5 812.5,189.5 802.5,195.0 795.0,198.0 787.5,202.0 780.0,207.5 770.0,212.5" fill="none" stroke="#000" stroke-width="3.6" stroke-linejoin="round"/>
<polyline points="670.0,445.0 668.8,462.5 663.8,477.5 661.0,486.0 655.0,498.0 647.5,510.0 640.0,522.0 634.0,534.0 631.0,546.0 625.0,561.0 617.5,576.0 610.0,588.0" fill="none" stroke="#000" stroke-width="4" stroke-linejoin="round"/>
<polyline points="605.5,615.0 607.5,625.0 611.2,642.5 616.2,662.5 622.5,685.0 630.0,705.0 638.8,725.0" fill="none" stroke="#000" stroke-width="3.6" stroke-linejoin="round"/>
<polyline points="190.0,547.5 195.0,562.5 205.0,575.0 215.0,579.0 225.0,577.5 232.5,570.0 240.0,569.0 250.0,570.0 265.0,561.0 275.0,562.5 290.0,555.0 300.0,552.5 310.0,545.0 312.5,535.0 320.0,525.0" fill="none" stroke="#000" stroke-width="2.9" stroke-linejoin="round"/>
<polygon points="527.5,412 533.5,406 541.75,415 535,421" fill="none" stroke="#000" stroke-width="2" stroke-linejoin="miter"/>
</g>
<g stroke="#000" stroke-width="1.2" stroke-linejoin="miter">
<polygon points="99.5,822.3 172.5,810 172.5,834.3" fill="#730000"/>
<rect x="172.5" y="810" width="72.5" height="24.3" fill="#e60000"/>
<rect x="245" y="810" width="72.5" height="24.3" fill="#e67300"/>
<rect x="317.5" y="810" width="72.5" height="24.3" fill="#ffb266"/>
<rect x="390" y="810" width="72.5" height="24.3" fill="#ffff66"/>
<rect x="462.5" y="810" width="72.5" height="24.3" fill="#c8c8c8"/>
<rect x="535" y="810" width="73" height="24.3" fill="#e0ffff"/>
<rect x="608" y="810" width="73" height="24.3" fill="#96d2fa"/>
<rect x="681" y="810" width="73" height="24.3" fill="#50a5f5"/>
<rect x="754" y="810" width="72.5" height="24.3" fill="#2882f0"/>
<polygon points="900,822.3 826.5,810 826.5,834.3" fill="#1e6ed2"/>
</g>
<g font-family="Liberation Sans, sans-serif" font-size="20" text-anchor="middle" fill="#000">
<text x="172.5" y="854.5">2</text>
<text x="245" y="854.5">5</text>
<text x="317.5" y="854.5">10</text>
<text x="390" y="854.5">20</text>
<text x="462.5" y="854.5">30</text>
<text x="535" y="854.5">70</text>
<text x="608" y="854.5">80</text>
<text x="681" y="854.5">90</text>
<text x="754" y="854.5">95</text>
<text x="826.5" y="854.5">98</text>
</g>
<rect x="45.5" y="174.5" width="909.5" height="551" fill="none" stroke="#000" stroke-width="2"/>
<g stroke="#000" stroke-width="1.2">
<line x1="41" y1="309" x2="45" y2="309"/>
<line x1="41" y1="502" x2="45" y2="502"/>
<line x1="41" y1="695" x2="45" y2="695"/>
<line x1="52" y1="726" x2="52" y2="730.5"/>
<line x1="189.55" y1="726" x2="189.55" y2="730.5"/>
<line x1="327.1" y1="726" x2="327.1" y2="730.5"/>
<line x1="464.65" y1="726" x2="464.65" y2="730.5"/>
<line x1="602.2" y1="726" x2="602.2" y2="730.5"/>
<line x1="739.75" y1="726" x2="739.75" y2="730.5"/>
<line x1="877.3" y1="726" x2="877.3" y2="730.5"/>
</g>
<g font-family="Liberation Sans, sans-serif" font-size="17" fill="#000">
<text x="12.8" y="315.7" textLength="24.5" lengthAdjust="spacingAndGlyphs">40N</text>
<text x="12.8" y="508.7" textLength="24.5" lengthAdjust="spacingAndGlyphs">38N</text>
<text x="12.8" y="701.7" textLength="24.5" lengthAdjust="spacingAndGlyphs">36N</text>
<text x="39.5" y="745.7" textLength="25" lengthAdjust="spacingAndGlyphs">84W</text>
<text x="177.05" y="745.7" textLength="25" lengthAdjust="spacingAndGlyphs">82W</text>
<text x="314.6" y="745.7" textLength="25" lengthAdjust="spacingAndGlyphs">80W</text>
<text x="452.15" y="745.7" textLength="25" lengthAdjust="spacingAndGlyphs">78W</text>
<text x="589.7" y="745.7" textLength="25" lengthAdjust="spacingAndGlyphs">76W</text>
<text x="727.25" y="745.7" textLength="25" lengthAdjust="spacingAndGlyphs">74W</text>
<text x="864.8" y="745.7" textLength="25" lengthAdjust="spacingAndGlyphs">72W</text>
</g>
<g font-family="Liberation Sans, sans-serif" font-size="14.2" fill="#000">
<text x="6.5" y="878.8" textLength="64" lengthAdjust="spacingAndGlyphs">**NOTE**</text>
<text x="6.5" y="894.4" textLength="119" lengthAdjust="spacingAndGlyphs">**Experimental**</text>
</g>
<g font-family="Liberation Sans, sans-serif" font-size="24.6" fill="#000" stroke="#000" stroke-width="0.9">
<text x="142.2" y="106.2" textLength="114.8" lengthAdjust="spacingAndGlyphs">SPoRT−LIS</text>
<text x="269" y="106.2" textLength="70.8" lengthAdjust="spacingAndGlyphs">0−100</text>
<text x="354.2" y="106.2" textLength="31.6" lengthAdjust="spacingAndGlyphs">cm</text>
<text x="397.8" y="106.2" textLength="39.2" lengthAdjust="spacingAndGlyphs">Soil</text>
<text x="449" y="106.2" textLength="87.2" lengthAdjust="spacingAndGlyphs">Moisture</text>
<text x="549" y="106.2" textLength="103.2" lengthAdjust="spacingAndGlyphs">percentile</text>
<text x="663" y="106.2" textLength="48.8" lengthAdjust="spacingAndGlyphs">valid</text>
<text x="723.8" y="106.2" textLength="27.2" lengthAdjust="spacingAndGlyphs">06</text>
<text x="763" y="106.2" textLength="37.2" lengthAdjust="spacingAndGlyphs">Jan</text>
<text x="813" y="106.2" textLength="54" lengthAdjust="spacingAndGlyphs">2026</text>
</g>
</svg></body></html>
